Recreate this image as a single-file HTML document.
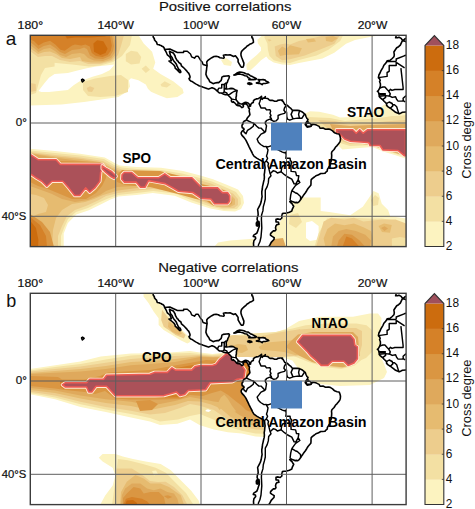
<!DOCTYPE html>
<html><head><meta charset="utf-8"><title>Cross degree maps</title>
<style>html,body{margin:0;padding:0;background:#fff;width:475px;height:509px;overflow:hidden}svg{display:block}svg text{font-family:"Liberation Sans",sans-serif}</style>
</head><body>
<svg width="475" height="509" viewBox="0 0 475 509">
<defs><clipPath id="clip0"><rect x="30.5" y="35.3" width="375.5" height="211.5"/></clipPath><clipPath id="clip1"><rect x="30.5" y="293.3" width="375.5" height="211.5"/></clipPath></defs>
<rect width="475" height="509" fill="#fff"/>
<g clip-path="url(#clip0)"><polygon points="30.0,35.0 138.4,35.0 143.7,43.4 152.1,51.8 155.3,62.4 153.2,68.7 160.5,73.9 173.2,81.3 182.6,88.7 183.7,92.9 177.4,97.1 166.8,98.2 158.4,95.0 151.0,91.8 147.9,88.7 145.8,84.5 138.4,80.3 131.0,78.2 128.9,80.3 130.0,86.6 126.8,91.8 118.4,97.1 110.0,98.2 98.0,100.0 84.0,102.0 61.6,104.5 30.0,105.5" fill="#FCF3C0"/><polygon points="30.0,58.0 41.0,58.8 54.6,60.0 54.6,66.4 45.0,68.0 41.0,75.0 36.0,93.0 30.0,95.0" fill="#F3E0A3"/><polygon points="30.0,83.0 35.7,84.0 36.0,91.0 30.0,92.0" fill="#EDCD8D"/><polygon points="38.5,91.0 44.2,83.4 49.0,77.7 54.6,74.0 67.9,73.0 75.5,71.1 86.8,68.3 96.3,66.4 105.8,65.4 114.3,64.5 113.0,66.5 109.6,70.2 102.0,74.0 92.5,76.8 85.0,79.6 79.3,81.5 73.6,85.3 67.9,90.0 58.4,91.0 49.0,92.0 41.4,92.0" fill="#FFFFFF"/><polygon points="125.8,54.0 131.0,50.8 137.4,51.8 141.2,57.1 139.5,63.4 131.0,64.5 125.8,61.3" fill="#F3E0A3"/><polygon points="141.6,68.7 145.8,65.5 150.0,69.7 145.8,72.9" fill="#F3E0A3"/><polygon points="160.5,84.5 164.7,81.3 171.0,84.5 166.8,87.6 161.6,86.6" fill="#F3E0A3"/><polygon points="83.0,82.0 95.0,78.5 110.0,76.0 121.0,75.0 128.0,80.0 128.0,92.0 115.0,96.0 100.0,97.0 88.0,96.0 83.0,90.0" fill="#F3E0A3"/><polygon points="86.8,88.0 90.0,86.3 94.4,88.0 92.0,92.0 88.0,91.5" fill="#EDCD8D"/><polygon points="30.0,35.0 132.0,35.0 130.0,45.0 122.0,56.0 113.0,62.0 100.0,65.5 89.0,66.6 72.0,64.5 51.0,62.4 40.5,61.3 30.0,63.4" fill="#F3E0A3"/><polygon points="30.0,35.0 124.0,35.0 121.0,46.0 118.0,55.0 112.0,61.0 100.0,64.0 88.0,64.0 80.0,61.0 70.0,62.0 60.0,60.0 52.0,56.0 45.0,56.0 38.0,57.0 30.0,51.0" fill="#EDCD8D"/><polygon points="30.0,35.0 116.0,35.0 117.0,42.0 117.0,49.0 115.5,55.0 111.0,60.0 102.0,62.5 91.0,62.4 82.0,61.0 80.0,57.0 70.0,59.0 62.0,58.0 56.0,54.0 50.0,51.5 44.0,52.0 38.0,54.0 30.0,48.0" fill="#E6BB70"/><polygon points="30.0,35.0 114.0,35.0 115.0,41.0 115.5,47.0 114.5,53.0 111.0,58.0 103.0,61.0 94.0,60.5 88.0,58.0 84.0,54.0 80.0,53.0 72.0,54.0 66.0,57.0 60.0,55.0 55.0,51.0 50.0,48.0 44.0,49.0 38.4,52.0 34.0,48.0 30.0,45.0" fill="#DFA95C"/><polygon points="30.0,35.0 112.0,35.0 113.0,41.0 114.0,46.0 113.0,51.0 110.0,56.0 103.0,59.0 95.0,58.5 90.0,55.5 87.0,49.0 84.0,47.5 80.0,49.0 72.0,50.0 65.0,54.0 60.0,52.0 55.3,48.0 50.0,44.5 43.7,46.0 38.4,49.0 34.0,45.0 30.0,42.0" fill="#DA9642"/><polygon points="30.0,35.0 109.7,35.0 110.8,40.3 111.8,45.5 110.8,50.8 107.6,55.0 102.4,57.1 96.0,56.0 91.8,52.9 89.7,46.6 85.5,44.5 81.3,45.5 75.0,44.5 72.1,45.5 64.7,50.8 60.5,49.7 55.3,44.5 50.0,40.8 43.7,42.4 38.4,45.5 34.2,41.3 30.0,39.2" fill="#D58128"/><polygon points="64.7,35.0 109.7,35.0 105.0,36.5 90.0,37.5 75.0,37.5 67.0,38.5" fill="#CC6C0E"/><polygon points="93.4,43.4 97.1,40.3 103.4,41.3 107.6,48.7 105.5,52.9 100.3,55.0 94.0,51.8" fill="#CC6C0E"/><polygon points="30.0,148.7 55.0,151.0 80.0,153.7 104.8,157.4 116.0,163.7 120.0,165.6 136.4,167.0 161.0,167.8 183.0,171.0 199.4,175.2 213.0,179.3 226.7,184.7 238.0,189.5 243.0,196.0 244.0,203.0 241.0,209.0 235.0,211.5 224.0,211.0 210.3,208.5 191.2,202.5 174.7,195.7 152.8,193.0 136.4,195.0 130.0,195.5 118.4,196.6 110.0,199.7 101.6,204.0 88.9,210.3 76.3,214.5 67.9,222.9 63.7,233.4 63.7,247.0 30.0,247.0" fill="#FCF3C0"/><polygon points="30.0,150.5 55.0,153.0 80.0,155.5 104.0,159.0 114.0,165.0 122.0,167.5 137.0,169.0 161.0,170.0 182.0,173.5 198.0,177.5 212.0,181.5 225.0,187.0 236.0,192.0 240.5,198.0 241.0,204.0 237.0,209.0 224.0,209.5 210.0,206.5 191.0,200.0 175.0,193.5 153.0,191.0 137.0,193.0 118.0,195.0 108.0,198.5 100.0,202.0 88.0,208.0 76.0,212.0 68.0,219.0 64.0,228.0 61.0,236.0 61.0,247.0 30.0,247.0" fill="#F3E0A3"/><polygon points="30.0,152.0 55.0,155.0 80.0,157.5 103.0,161.0 113.0,166.5 122.0,169.5 137.0,171.0 161.0,172.0 181.0,175.5 197.0,179.5 211.0,183.5 223.0,189.0 233.0,193.5 238.0,199.0 238.0,205.0 234.0,208.0 222.0,208.0 210.0,204.5 192.0,197.5 176.0,191.5 153.0,189.0 137.0,190.5 118.0,193.0 106.0,196.0 98.0,200.5 86.0,206.0 75.0,210.0 67.0,216.0 62.0,226.0 58.0,236.0 58.0,247.0 30.0,247.0" fill="#EDCD8D"/><polygon points="30.0,153.0 56.0,156.5 81.0,159.0 102.0,162.5 112.0,168.0 121.0,171.0 137.0,172.5 161.0,174.0 180.0,178.0 196.0,182.0 210.0,186.0 221.0,190.5 230.0,194.0 235.0,199.0 235.0,204.5 230.0,207.0 216.0,206.5 208.0,202.5 192.0,195.5 176.0,189.5 153.0,187.0 137.0,188.0 118.0,190.5 103.0,195.0 94.0,199.0 85.0,202.0 72.0,204.0 62.0,210.0 56.0,218.0 53.0,230.0 52.0,247.0 30.0,247.0 30.0,218.0 38.0,214.0 46.0,212.0 48.0,205.0 44.0,198.0 36.0,195.0 30.0,194.0" fill="#E6BB70"/><polygon points="30.0,153.5 57.0,158.0 82.0,161.0 102.0,163.5 112.0,169.5 121.0,172.5 138.0,174.0 162.0,176.0 178.0,180.0 194.0,184.0 208.0,188.5 219.0,191.5 228.0,194.0 232.5,199.0 232.0,204.0 227.0,206.0 214.0,205.5 207.0,201.0 193.0,194.0 177.0,188.0 152.0,185.5 135.0,186.0 117.0,187.0 106.0,191.0 100.0,195.0 88.0,200.0 75.0,202.0 62.0,199.0 52.0,194.0 44.0,191.0 30.0,186.0" fill="#DFA95C"/><polygon points="30.0,216.0 40.0,222.0 47.0,232.0 52.0,247.0 30.0,247.0" fill="#DFA95C"/><polygon points="30.0,214.0 42.0,222.0 50.0,232.0 54.0,247.0 30.0,247.0" fill="#DA9642"/><polygon points="30.0,217.0 40.0,225.0 46.0,236.0 47.0,247.0 30.0,247.0" fill="#D58128"/><polygon points="30.0,220.5 36.0,228.0 38.4,240.0 38.0,247.0 30.0,247.0" fill="#CC6C0E"/><polygon points="30.0,160.0 30.0,182.0 38.0,186.0 48.0,189.0 60.0,194.0 72.0,199.0 86.0,199.0 96.0,193.0 102.0,186.0 106.0,178.0 108.0,168.0 100.0,162.0 60.0,161.0 40.0,158.0" fill="#DA9642"/><polygon points="116.0,176.0 122.0,170.0 160.0,171.0 180.0,176.0 200.0,184.0 215.0,187.0 226.0,191.0 231.0,195.0 232.0,202.0 228.0,205.5 213.0,205.5 207.0,201.0 196.0,199.0 178.0,194.0 150.0,187.0 125.0,185.0 117.0,182.0" fill="#DA9642"/><polygon points="29.0,155.0 31.3,155.1 38.4,159.8 56.1,159.8 60.3,164.4 102.4,164.4 104.1,166.6 100.7,171.9 99.9,181.2 94.8,187.9 89.8,192.2 85.6,187.9 79.7,195.5 74.6,195.5 68.7,187.9 62.8,181.2 51.9,181.2 46.8,186.3 41.8,181.2 36.7,178.3 31.3,174.5 29.0,174.5" fill="none" stroke="#FFEBD6" stroke-width="3.4" stroke-linejoin="round"/><polygon points="29.0,155.0 31.3,155.1 38.4,159.8 56.1,159.8 60.3,164.4 102.4,164.4 104.1,166.6 100.7,171.9 99.9,181.2 94.8,187.9 89.8,192.2 85.6,187.9 79.7,195.5 74.6,195.5 68.7,187.9 62.8,181.2 51.9,181.2 46.8,186.3 41.8,181.2 36.7,178.3 31.3,174.5 29.0,174.5" fill="#AB5159" stroke="#EE5B53" stroke-width="1.6" stroke-linejoin="round"/><polygon points="102.2,165.8 106.6,168.8 111.8,171.8 116.2,176.2 114.0,178.4 110.3,176.2 105.9,172.5 102.2,168.8" fill="none" stroke="#FFEBD6" stroke-width="3.4" stroke-linejoin="round"/><polygon points="102.2,165.8 106.6,168.8 111.8,171.8 116.2,176.2 114.0,178.4 110.3,176.2 105.9,172.5 102.2,168.8" fill="#AB5159" stroke="#EE5B53" stroke-width="1.6" stroke-linejoin="round"/><polygon points="122.1,174.7 124.3,172.5 131.7,172.5 137.6,177.7 158.9,177.7 164.8,173.8 170.1,177.7 191.9,177.7 202.0,187.9 217.6,187.9 222.4,192.6 227.6,192.6 229.7,195.8 229.7,201.0 227.6,203.7 214.5,203.7 210.8,199.0 201.3,198.4 192.8,192.5 178.5,191.2 172.6,187.8 165.0,183.6 148.6,180.6 144.9,187.3 140.5,187.3 136.1,182.1 124.3,182.1 121.8,179.2" fill="none" stroke="#FFEBD6" stroke-width="3.4" stroke-linejoin="round"/><polygon points="122.1,174.7 124.3,172.5 131.7,172.5 137.6,177.7 158.9,177.7 164.8,173.8 170.1,177.7 191.9,177.7 202.0,187.9 217.6,187.9 222.4,192.6 227.6,192.6 229.7,195.8 229.7,201.0 227.6,203.7 214.5,203.7 210.8,199.0 201.3,198.4 192.8,192.5 178.5,191.2 172.6,187.8 165.0,183.6 148.6,180.6 144.9,187.3 140.5,187.3 136.1,182.1 124.3,182.1 121.8,179.2" fill="#AB5159" stroke="#EE5B53" stroke-width="1.6" stroke-linejoin="round"/><polygon points="214.0,247.0 218.0,242.5 230.0,240.5 250.0,239.0 262.0,238.0 262.0,247.0" fill="#FCF3C0"/><polygon points="257.4,39.7 261.0,36.5 263.0,35.0 381.0,35.0 380.0,35.5 372.0,36.5 365.0,38.0 355.0,40.0 346.1,43.8 334.3,52.7 322.5,58.6 299.0,63.0 290.0,65.0 282.1,64.5 273.7,62.4 268.4,59.2 266.3,56.6 261.0,60.3 255.8,65.5 250.5,70.3 246.8,69.7 246.3,64.5 250.5,60.3 256.8,55.0 261.0,50.8 261.0,47.6 257.9,43.4" fill="#FCF3C0"/><polygon points="264.2,37.1 266.0,35.0 343.2,35.0 340.2,40.9 328.4,49.7 316.6,55.6 299.0,60.0 290.0,62.9 282.1,62.4 273.7,60.3 269.5,56.0 267.9,49.7 267.4,43.4" fill="#F3E0A3"/><polygon points="274.7,46.6 280.0,44.5 285.3,43.4 290.0,44.5 299.0,40.9 313.7,38.0 325.5,35.0 340.2,35.0 334.3,43.8 319.6,49.7 304.8,55.6 290.0,59.2 282.1,60.3 275.8,56.0" fill="#EDCD8D"/><polygon points="267.4,39.5 270.0,39.2 271.6,40.5 269.0,41.5" fill="#EDCD8D"/><polygon points="277.9,50.8 282.1,46.6 286.3,48.7 290.1,45.3 301.9,48.3 299.0,54.2 285.3,55.0 280.0,56.0" fill="#E6BB70"/><polygon points="325.5,37.0 333.0,36.0 338.0,38.0 332.0,42.0 326.0,41.0" fill="#E6BB70"/><polygon points="306.0,39.0 314.0,38.5 316.0,41.5 308.0,42.5" fill="#E6BB70"/><polygon points="221.0,60.0 226.0,58.0 232.0,62.0 231.0,66.0 224.0,65.0" fill="#FCF3C0"/><polygon points="300.0,116.0 309.9,111.2 319.2,111.7 333.0,114.7 340.0,117.6 353.9,117.1 367.8,115.0 376.1,110.8 381.0,107.0 385.0,104.0 388.0,106.5 392.0,109.5 396.0,112.0 399.0,113.8 403.0,112.5 406.0,112.0 406.0,158.7 395.6,155.2 384.0,151.7 372.4,147.1 356.2,148.3 342.3,149.4 337.7,144.8 330.0,138.0 320.0,130.0 310.0,127.0 303.0,124.0" fill="#FCF3C0"/><polygon points="308.0,117.0 330.0,118.0 345.0,121.0 362.0,119.5 380.0,118.0 392.0,116.0 399.0,116.0 406.0,115.0 406.0,157.0 390.0,152.0 372.0,145.0 350.0,146.0 340.0,143.0 333.0,137.0 322.0,128.0 310.0,123.0" fill="#F3E0A3"/><polygon points="318.0,120.0 335.0,121.0 348.0,124.0 370.0,123.0 390.0,121.0 406.0,120.0 406.0,156.0 388.0,150.0 372.0,144.0 350.0,144.0 341.0,141.0 335.0,135.0" fill="#EDCD8D"/><polygon points="330.0,124.0 350.0,126.0 370.0,125.0 406.0,124.0 406.0,156.0 386.0,150.0 370.0,145.0 348.0,142.0 340.0,139.0 334.0,133.0" fill="#DFA95C"/><polygon points="336.5,129.7 352.7,129.7 356.2,133.2 359.7,129.7 363.2,133.2 367.8,129.7 405.5,129.7 405.5,155.6 404.3,155.6 398.0,150.5 382.8,149.9 380.0,145.5 370.0,145.5 369.0,143.0 367.8,142.5 350.4,141.3 344.6,139.0 341.2,135.5 336.5,132.0" fill="none" stroke="#FFEBD6" stroke-width="3.4" stroke-linejoin="round"/><polygon points="336.5,129.7 352.7,129.7 356.2,133.2 359.7,129.7 363.2,133.2 367.8,129.7 405.5,129.7 405.5,155.6 404.3,155.6 398.0,150.5 382.8,149.9 380.0,145.5 370.0,145.5 369.0,143.0 367.8,142.5 350.4,141.3 344.6,139.0 341.2,135.5 336.5,132.0" fill="#AB5159" stroke="#EE5B53" stroke-width="1.6" stroke-linejoin="round"/><polygon points="289.0,196.0 306.0,197.4 320.7,197.4 320.7,211.0 329.2,212.1 350.2,215.3 362.8,206.8 369.2,197.4 373.4,191.0 378.6,193.2 381.8,203.7 388.1,210.0 390.2,216.3 406.0,218.4 406.0,247.0 262.0,247.0 266.0,236.0 272.0,228.0 280.0,222.0 286.0,212.0" fill="#FCF3C0"/><polygon points="306.0,222.6 312.0,221.0 318.6,226.0 318.6,239.5 310.0,241.0 306.0,238.0" fill="#FFFFFF"/><polygon points="327.0,218.4 348.0,217.4 369.2,218.4 381.8,218.4 394.4,220.5 405.0,224.7 406.0,247.0 314.4,247.0 318.6,233.2" fill="#F3E0A3"/><polygon points="290.0,215.0 298.0,213.0 302.0,222.0 296.0,228.0 289.0,224.0" fill="#F3E0A3"/><polygon points="371.0,200.0 375.0,195.0 379.0,198.0 378.0,205.0 373.0,206.0" fill="#F3E0A3"/><polygon points="319.8,234.7 323.6,221.5 331.2,217.7 344.4,219.6 353.9,217.7 363.4,221.5 372.8,220.5 382.3,219.6 395.6,219.6 406.0,223.4 406.0,247.0 316.0,247.0" fill="#EDCD8D"/><polygon points="391.8,238.5 400.0,237.0 406.0,238.0 406.0,247.0 392.0,247.0" fill="#F3E0A3"/><polygon points="323.6,238.5 327.4,229.0 335.0,223.4 344.4,225.3 353.9,223.4 363.4,227.2 371.0,231.0 372.8,238.5 372.8,247.0 325.5,247.0" fill="#E6BB70"/><polygon points="378.5,226.0 384.0,223.4 391.8,225.0 390.0,232.8 382.0,232.0" fill="#E6BB70"/><polygon points="381.0,228.0 384.5,226.2 388.0,228.5 384.5,231.0" fill="#DFA95C"/><polygon points="331.2,247.0 333.0,236.6 338.7,231.0 346.3,229.0 355.8,231.0 365.3,234.7 371.0,240.4 370.0,247.0" fill="#DFA95C"/><polygon points="336.8,247.0 338.7,240.4 344.4,233.8 352.0,234.7 359.6,240.4 365.3,247.0" fill="#DA9642"/><polygon points="342.5,247.0 346.3,236.6 352.0,238.5 359.6,247.0" fill="#D58128"/><polygon points="266.0,240.0 283.0,238.0 286.0,247.0 264.0,247.0" fill="#DFA95C"/><g><path d="M151.4 33.5 L152.2 34.9 L153.1 35.7 L153.2 37.0 L153.9 38.0 L154.4 38.9 L154.4 39.7 L155.4 41.0 L156.5 42.1 L157.1 44.1 L157.4 44.5 L159.1 44.7 L160.1 45.3 L161.6 45.7 L161.9 46.3 L162.7 46.5 L163.6 47.2 L164.3 48.3 L164.5 49.0 L164.6 49.5 L165.5 50.8 L166.3 52.3 L167.0 54.0 L167.4 54.8 L168.7 56.0 L170.0 57.2 L170.8 59.0 L171.3 60.7 L169.0 61.0 L170.4 62.1 L172.1 63.5 L173.8 65.0 L174.9 66.4 L175.3 68.3 L176.4 69.2 L177.9 70.6 L179.4 72.3 L180.0 72.7 L180.9 72.0 L180.2 70.2 L179.2 69.7 L178.3 68.5 L177.0 65.9 L176.4 64.3 L175.1 62.6 L173.8 60.9 L172.7 59.2 L172.1 57.5 L170.6 55.8 L169.8 53.3 L169.5 51.3 L170.8 52.0 L172.3 52.5 L173.6 53.3 L175.1 56.0 L175.5 57.7 L177.2 60.7 L177.9 60.9 L178.7 62.3 L180.9 64.0 L181.5 65.9 L183.2 67.3 L184.9 69.0 L186.4 70.6 L187.5 72.0 L188.8 73.4 L189.6 75.3 L190.1 76.9 L189.8 78.0 L189.0 78.5 L189.4 79.6 L190.7 81.0 L192.0 81.4 L193.7 82.6 L195.6 83.9 L197.1 84.6 L199.0 85.7 L201.4 86.6 L203.3 87.3 L205.4 87.9 L207.6 88.8 L208.6 89.1 L209.9 88.6 L211.4 87.9 L212.7 87.9 L214.0 88.4 L215.7 89.7 L217.6 91.5 L219.3 92.9 L221.3 93.0 L223.0 93.9 L224.9 94.6 L226.8 94.8 L227.4 94.3 L228.1 95.2 L229.4 96.5 L231.1 98.3 L231.7 99.4 L231.3 100.7 L231.7 101.7 L233.0 102.4 L233.4 101.7 L234.1 102.4 L235.4 103.5 L236.2 104.6 L236.8 105.2 L237.7 105.6 L239.2 105.4 L240.7 106.5 L242.0 107.6 L243.0 107.1 L243.5 106.1 L243.0 105.2 L244.3 103.9 L245.0 103.7 L246.3 104.1 L247.3 105.0 L248.0 105.9 L248.4 107.6 L248.6 108.0 L249.5 109.1 L249.2 111.0 L249.7 113.4 L249.9 114.7 L249.0 115.9 L247.7 117.4 L246.7 119.2 L246.0 120.4 L244.5 120.9 L243.7 121.7 L243.0 123.0 L242.8 124.3 L242.0 125.1 L242.0 126.4 L242.2 127.7 L243.5 128.3 L244.1 129.2 L243.3 130.3 L242.6 130.7 L241.8 131.6 L241.1 132.8 L241.3 134.1 L242.0 135.4 L244.1 137.6 L245.2 139.1 L246.0 140.4 L247.1 142.7 L248.2 144.9 L249.0 146.6 L250.1 148.8 L251.2 151.0 L252.0 152.5 L252.4 153.6 L253.5 155.4 L254.6 156.7 L256.7 158.1 L258.9 159.4 L261.0 160.5 L262.5 161.4 L264.0 162.5 L264.6 163.4 L264.8 165.5 L265.1 167.8 L264.8 170.0 L264.6 172.3 L264.2 174.7 L264.4 177.0 L264.2 179.4 L263.6 181.7 L263.1 184.1 L262.5 186.6 L262.3 189.0 L261.8 191.5 L261.8 194.0 L262.1 196.5 L261.6 199.0 L261.2 201.6 L260.4 204.2 L259.5 206.0 L258.6 207.6 L257.6 209.5 L258.0 212.2 L258.2 215.0 L257.4 217.2 L257.1 219.2 L257.8 221.2 L258.9 221.5 L259.3 223.5 L259.3 226.4 L258.4 228.8 L257.8 230.9 L256.7 233.3 L253.7 235.1 L253.3 236.4 L255.4 237.0 L255.7 238.6 L253.9 240.8 L253.5 243.4 L253.7 246.7 L254.6 250.0 L254.6 257.0 L267.4 257.0 L267.4 250.0 L268.7 247.0 L270.2 244.4 L271.2 242.4 L273.2 240.2 L274.0 239.4 L274.2 237.6 L272.1 236.4 L270.4 235.1 L270.6 233.6 L271.7 232.4 L273.4 230.9 L274.9 230.9 L276.0 229.7 L275.5 227.9 L276.0 225.8 L277.0 224.6 L278.9 224.3 L278.5 222.3 L277.7 222.0 L276.0 222.0 L276.0 219.2 L278.1 218.9 L280.2 219.5 L281.9 218.0 L281.7 216.1 L282.4 213.6 L283.9 213.3 L286.6 213.1 L289.4 212.2 L291.8 211.1 L292.2 209.3 L293.7 206.3 L292.8 205.0 L292.2 203.9 L290.5 202.4 L290.1 201.9 L289.8 201.3 L290.9 200.6 L291.3 201.3 L293.7 202.1 L294.8 202.6 L296.7 202.4 L297.5 202.8 L299.2 201.6 L300.5 199.8 L301.4 198.3 L302.9 196.2 L303.5 195.2 L305.4 192.7 L306.7 190.7 L308.0 188.5 L309.5 186.8 L310.8 185.3 L311.0 183.7 L311.0 181.5 L311.2 179.6 L312.5 178.4 L314.4 177.0 L315.9 175.8 L318.0 175.1 L319.5 174.2 L320.8 173.5 L322.5 173.5 L325.1 173.3 L325.3 172.6 L327.2 171.2 L327.4 169.4 L328.7 167.3 L330.0 165.5 L330.2 163.2 L331.1 161.4 L331.5 158.7 L331.7 155.4 L331.5 153.2 L331.9 151.7 L332.6 151.0 L334.1 149.5 L335.4 147.3 L337.1 145.6 L338.6 143.8 L339.8 142.1 L340.3 140.4 L340.5 138.2 L340.1 136.5 L339.6 135.0 L339.0 134.0 L337.1 133.7 L335.1 133.1 L333.6 132.0 L332.6 130.9 L330.2 129.4 L328.3 129.0 L325.5 129.2 L323.0 128.1 L320.2 128.3 L319.1 126.4 L316.5 125.1 L314.4 124.5 L312.7 124.3 L311.4 125.6 L311.2 126.2 L309.7 126.8 L307.1 127.1 L306.1 125.8 L305.2 124.5 L305.7 123.2 L306.5 122.1 L307.4 121.1 L308.0 119.4 L306.9 118.5 L305.9 116.2 L305.2 114.4 L304.6 114.0 L303.7 113.2 L301.8 111.7 L299.5 110.6 L297.3 110.2 L295.2 110.4 L292.6 110.4 L290.9 108.4 L289.4 107.4 L287.1 105.2 L284.9 104.6 L283.2 101.7 L281.7 100.4 L282.6 100.0 L280.2 100.0 L277.7 100.4 L276.8 101.3 L274.2 101.1 L272.1 100.2 L270.0 100.4 L268.9 99.6 L267.8 98.5 L265.9 98.3 L264.8 97.4 L265.3 96.7 L264.6 98.1 L263.1 98.1 L262.3 99.4 L261.2 98.1 L260.6 97.4 L261.6 96.3 L259.5 97.8 L258.2 98.7 L256.3 98.9 L255.0 99.4 L253.5 100.7 L253.3 102.4 L252.0 103.0 L250.7 104.6 L250.5 106.1 L249.5 104.6 L248.4 103.3 L247.1 102.6 L245.0 102.4 L243.9 103.0 L241.8 104.1 L240.3 103.7 L239.2 103.3 L238.3 102.6 L237.5 101.5 L236.4 100.2 L236.0 99.1 L236.0 97.2 L236.4 96.1 L236.4 93.9 L236.8 91.9 L237.1 90.6 L235.4 89.9 L233.2 88.6 L231.1 88.4 L228.9 88.8 L226.8 89.0 L225.7 88.6 L226.4 87.5 L226.2 85.0 L226.6 83.0 L227.2 82.8 L227.9 80.5 L228.9 78.5 L229.4 76.6 L228.7 75.7 L226.4 76.0 L223.2 76.4 L221.9 77.1 L221.5 79.4 L221.0 80.7 L219.5 81.9 L218.7 82.6 L217.2 82.6 L215.1 83.0 L213.1 83.7 L211.8 82.8 L210.1 82.1 L209.5 81.2 L208.9 79.8 L207.6 78.0 L206.7 76.4 L205.9 74.3 L206.1 72.5 L206.5 70.2 L206.7 67.8 L207.1 65.7 L206.9 63.5 L206.7 61.9 L207.6 60.7 L209.3 59.4 L211.8 57.7 L214.0 56.5 L216.1 56.3 L218.3 56.8 L220.0 57.7 L222.1 58.0 L223.8 58.2 L224.2 57.5 L223.4 55.3 L225.7 54.8 L227.9 55.0 L230.0 54.8 L232.1 55.8 L233.6 56.5 L235.4 55.8 L236.8 57.5 L238.1 59.4 L238.1 61.9 L239.2 63.8 L240.3 65.7 L241.5 67.3 L243.0 67.1 L243.7 65.5 L243.9 63.1 L243.0 60.9 L242.6 59.7 L241.8 57.7 L241.1 55.8 L240.9 54.0 L241.3 52.0 L242.0 50.8 L243.9 49.0 L245.6 47.7 L247.1 46.0 L248.6 45.2 L250.3 43.9 L251.8 43.4 L253.5 42.3 L253.3 40.5 L252.7 38.1 L252.0 37.8 L251.8 36.5 L252.4 35.1 L252.7 33.5 L252.7 26.8 L151.4 26.8 Z M394.5 32.9 L395.2 34.0 L396.0 35.1 L396.0 37.0 L395.6 37.8 L397.7 37.6 L399.0 37.3 L401.2 38.4 L402.0 39.7 L402.9 40.5 L405.2 38.6 L407.4 38.6 L407.4 26.8 L394.5 26.8 Z M407.4 42.3 L403.5 40.7 L402.2 41.0 L401.6 42.3 L400.3 45.2 L398.6 46.7 L396.7 47.7 L395.2 50.0 L393.9 52.0 L394.3 54.8 L393.9 56.8 L392.2 58.5 L390.3 60.2 L387.3 60.8 L385.8 63.1 L383.9 65.2 L383.0 67.3 L380.9 70.9 L380.0 73.0 L378.9 75.0 L378.4 77.6 L379.6 78.9 L380.2 80.5 L379.6 81.7 L380.4 83.7 L380.4 86.1 L379.6 88.4 L378.3 90.6 L377.4 91.3 L378.5 92.1 L378.9 93.9 L379.2 95.4 L379.2 96.5 L380.2 97.6 L381.9 99.1 L383.2 100.2 L384.3 101.5 L385.6 102.6 L386.6 103.9 L386.6 105.4 L388.1 106.9 L390.3 108.2 L391.8 109.3 L393.5 110.6 L395.6 112.3 L398.6 113.6 L399.9 113.6 L402.4 112.3 L406.3 111.9 L408.4 112.1 L414.8 112.1 L414.8 42.3 Z M233.3 75.2 L234.5 74.8 L237.5 72.7 L239.6 72.0 L241.8 72.3 L243.9 72.7 L246.0 73.7 L248.2 74.1 L250.3 75.7 L252.4 76.6 L254.6 77.8 L256.4 78.8 L255.7 79.4 L253.5 79.6 L250.3 79.6 L248.8 79.7 L249.9 78.5 L248.2 77.8 L246.9 76.0 L245.0 75.7 L242.8 74.8 L240.7 74.3 L239.6 73.9 L237.5 74.3 L235.4 75.0 L233.3 75.2 Z M255.8 83.0 L258.9 83.5 L260.4 83.5 L262.1 84.6 L263.1 83.5 L265.3 83.5 L267.4 83.0 L268.8 82.6 L267.6 81.7 L266.1 81.2 L265.3 80.1 L263.1 79.6 L261.0 79.8 L258.0 79.6 L259.5 80.7 L259.3 81.9 L257.8 82.6 L255.8 83.0 Z M247.4 83.2 L249.2 82.8 L251.6 83.5 L251.8 84.1 L249.9 84.6 L247.7 83.7 L247.4 83.2 Z M256.9 221.5 L256.3 223.5 L256.5 225.8 L257.6 226.1 L258.0 223.5 L257.6 221.7 L256.9 221.5 Z M81.7 78.9 L83.6 79.8 L84.1 80.5 L82.4 81.9 L81.7 80.7 L81.7 78.9 Z M306.5 123.4 L308.0 123.2 L309.5 123.2 L311.2 124.3 L311.4 125.1 L310.8 126.2 L309.1 126.4 L307.4 126.4 L306.3 125.6 L306.1 124.3 L306.5 123.4 Z M307.4 122.4 L308.4 122.1 L308.6 123.0 L307.6 123.1 L307.4 122.4 Z" fill="#fff" stroke="none"/><path d="M151.4 33.5 L152.2 34.9 L153.1 35.7 L153.2 37.0 L153.9 38.0 L154.4 38.9 L154.4 39.7 L155.4 41.0 L156.5 42.1 L157.1 44.1 L157.4 44.5 L159.1 44.7 L160.1 45.3 L161.6 45.7 L161.9 46.3 L162.7 46.5 L163.6 47.2 L164.3 48.3 L164.5 49.0 L164.6 49.5 L165.5 50.8 L166.3 52.3 L167.0 54.0 L167.4 54.8 L168.7 56.0 L170.0 57.2 L170.8 59.0 L171.3 60.7 L169.0 61.0 L170.4 62.1 L172.1 63.5 L173.8 65.0 L174.9 66.4 L175.3 68.3 L176.4 69.2 L177.9 70.6 L179.4 72.3 L180.0 72.7 L180.9 72.0 L180.2 70.2 L179.2 69.7 L178.3 68.5 L177.0 65.9 L176.4 64.3 L175.1 62.6 L173.8 60.9 L172.7 59.2 L172.1 57.5 L170.6 55.8 L169.8 53.3 L169.5 51.3 L170.8 52.0 L172.3 52.5 L173.6 53.3 L175.1 56.0 L175.5 57.7 L177.2 60.7 L177.9 60.9 L178.7 62.3 L180.9 64.0 L181.5 65.9 L183.2 67.3 L184.9 69.0 L186.4 70.6 L187.5 72.0 L188.8 73.4 L189.6 75.3 L190.1 76.9 L189.8 78.0 L189.0 78.5 L189.4 79.6 L190.7 81.0 L192.0 81.4 L193.7 82.6 L195.6 83.9 L197.1 84.6 L199.0 85.7 L201.4 86.6 L203.3 87.3 L205.4 87.9 L207.6 88.8 L208.6 89.1 L209.9 88.6 L211.4 87.9 L212.7 87.9 L214.0 88.4 L215.7 89.7 L217.6 91.5 L219.3 92.9 L221.3 93.0 L223.0 93.9 L224.9 94.6 L226.8 94.8 L227.4 94.3 L228.1 95.2 L229.4 96.5 L231.1 98.3 L231.7 99.4 L231.3 100.7 L231.7 101.7 L233.0 102.4 L233.4 101.7 L234.1 102.4 L235.4 103.5 L236.2 104.6 L236.8 105.2 L237.7 105.6 L239.2 105.4 L240.7 106.5 L242.0 107.6 L243.0 107.1 L243.5 106.1 L243.0 105.2 L244.3 103.9 L245.0 103.7 L246.3 104.1 L247.3 105.0 L248.0 105.9 L248.4 107.6 L248.6 108.0 L249.5 109.1 L249.2 111.0 L249.7 113.4 L249.9 114.7 L249.0 115.9 L247.7 117.4 L246.7 119.2 L246.0 120.4 L244.5 120.9 L243.7 121.7 L243.0 123.0 L242.8 124.3 L242.0 125.1 L242.0 126.4 L242.2 127.7 L243.5 128.3 L244.1 129.2 L243.3 130.3 L242.6 130.7 L241.8 131.6 L241.1 132.8 L241.3 134.1 L242.0 135.4 L244.1 137.6 L245.2 139.1 L246.0 140.4 L247.1 142.7 L248.2 144.9 L249.0 146.6 L250.1 148.8 L251.2 151.0 L252.0 152.5 L252.4 153.6 L253.5 155.4 L254.6 156.7 L256.7 158.1 L258.9 159.4 L261.0 160.5 L262.5 161.4 L264.0 162.5 L264.6 163.4 L264.8 165.5 L265.1 167.8 L264.8 170.0 L264.6 172.3 L264.2 174.7 L264.4 177.0 L264.2 179.4 L263.6 181.7 L263.1 184.1 L262.5 186.6 L262.3 189.0 L261.8 191.5 L261.8 194.0 L262.1 196.5 L261.6 199.0 L261.2 201.6 L260.4 204.2 L259.5 206.0 L258.6 207.6 L257.6 209.5 L258.0 212.2 L258.2 215.0 L257.4 217.2 L257.1 219.2 L257.8 221.2 L258.9 221.5 L259.3 223.5 L259.3 226.4 L258.4 228.8 L257.8 230.9 L256.7 233.3 L253.7 235.1 L253.3 236.4 L255.4 237.0 L255.7 238.6 L253.9 240.8 L253.5 243.4 L253.7 246.7 L254.6 250.0 M256.9 221.5 L256.3 223.5 L256.5 225.8 L257.6 226.1 L258.0 223.5 L257.6 221.7 L256.9 221.5 M267.4 250.0 L268.7 247.0 L270.2 244.4 L271.2 242.4 L273.2 240.2 L274.0 239.4 L274.2 237.6 L272.1 236.4 L270.4 235.1 L270.6 233.6 L271.7 232.4 L273.4 230.9 L274.9 230.9 L276.0 229.7 L275.5 227.9 L276.0 225.8 L277.0 224.6 L278.9 224.3 L278.5 222.3 L277.7 222.0 L276.0 222.0 L276.0 219.2 L278.1 218.9 L280.2 219.5 L281.9 218.0 L281.7 216.1 L282.4 213.6 L283.9 213.3 L286.6 213.1 L289.4 212.2 L291.8 211.1 L292.2 209.3 L293.7 206.3 L292.8 205.0 L292.2 203.9 L290.5 202.4 L290.1 201.9 L289.8 201.3 L290.9 200.6 L291.3 201.3 L293.7 202.1 L294.8 202.6 L296.7 202.4 L297.5 202.8 L299.2 201.6 L300.5 199.8 L301.4 198.3 L302.9 196.2 L303.5 195.2 L305.4 192.7 L306.7 190.7 L308.0 188.5 L309.5 186.8 L310.8 185.3 L311.0 183.7 L311.0 181.5 L311.2 179.6 L312.5 178.4 L314.4 177.0 L315.9 175.8 L318.0 175.1 L319.5 174.2 L320.8 173.5 L322.5 173.5 L325.1 173.3 L325.3 172.6 L327.2 171.2 L327.4 169.4 L328.7 167.3 L330.0 165.5 L330.2 163.2 L331.1 161.4 L331.5 158.7 L331.7 155.4 L331.5 153.2 L331.9 151.7 L332.6 151.0 L334.1 149.5 L335.4 147.3 L337.1 145.6 L338.6 143.8 L339.8 142.1 L340.3 140.4 L340.5 138.2 L340.1 136.5 L339.6 135.0 L339.0 134.0 L337.1 133.7 L335.1 133.1 L333.6 132.0 L332.6 130.9 L330.2 129.4 L328.3 129.0 L325.5 129.2 L323.0 128.1 L320.2 128.3 L319.1 126.4 L316.5 125.1 L314.4 124.5 L312.7 124.3 L311.4 125.6 L311.2 126.2 L309.7 126.8 L307.1 127.1 L306.1 125.8 L305.2 124.5 L305.7 123.2 L306.5 122.1 L307.4 121.1 L308.0 119.4 L306.9 118.5 L305.9 116.2 L305.2 114.4 L304.6 114.0 L303.7 113.2 L301.8 111.7 L299.5 110.6 L297.3 110.2 L295.2 110.4 L292.6 110.4 L290.9 108.4 L289.4 107.4 L287.1 105.2 L284.9 104.6 L283.2 101.7 L281.7 100.4 L282.6 100.0 L280.2 100.0 L277.7 100.4 L276.8 101.3 L274.2 101.1 L272.1 100.2 L270.0 100.4 L268.9 99.6 L267.8 98.5 L265.9 98.3 L264.8 97.4 L265.3 96.7 L264.6 98.1 L263.1 98.1 L262.3 99.4 L261.2 98.1 L260.6 97.4 L261.6 96.3 L259.5 97.8 L258.2 98.7 L256.3 98.9 L255.0 99.4 L253.5 100.7 L253.3 102.4 L252.0 103.0 L250.7 104.6 L250.5 106.1 L249.5 104.6 L248.4 103.3 L247.1 102.6 L245.0 102.4 L243.9 103.0 L241.8 104.1 L240.3 103.7 L239.2 103.3 L238.3 102.6 L237.5 101.5 L236.4 100.2 L236.0 99.1 L236.0 97.2 L236.4 96.1 L236.4 93.9 L236.8 91.9 L237.1 90.6 L235.4 89.9 L233.2 88.6 L231.1 88.4 L228.9 88.8 L226.8 89.0 L225.7 88.6 L226.4 87.5 L226.2 85.0 L226.6 83.0 L227.2 82.8 L227.9 80.5 L228.9 78.5 L229.4 76.6 L228.7 75.7 L226.4 76.0 L223.2 76.4 L221.9 77.1 L221.5 79.4 L221.0 80.7 L219.5 81.9 L218.7 82.6 L217.2 82.6 L215.1 83.0 L213.1 83.7 L211.8 82.8 L210.1 82.1 L209.5 81.2 L208.9 79.8 L207.6 78.0 L206.7 76.4 L205.9 74.3 L206.1 72.5 L206.5 70.2 L206.7 67.8 L207.1 65.7 L206.9 63.5 L206.7 61.9 L207.6 60.7 L209.3 59.4 L211.8 57.7 L214.0 56.5 L216.1 56.3 L218.3 56.8 L220.0 57.7 L222.1 58.0 L223.8 58.2 L224.2 57.5 L223.4 55.3 L225.7 54.8 L227.9 55.0 L230.0 54.8 L232.1 55.8 L233.6 56.5 L235.4 55.8 L236.8 57.5 L238.1 59.4 L238.1 61.9 L239.2 63.8 L240.3 65.7 L241.5 67.3 L243.0 67.1 L243.7 65.5 L243.9 63.1 L243.0 60.9 L242.6 59.7 L241.8 57.7 L241.1 55.8 L240.9 54.0 L241.3 52.0 L242.0 50.8 L243.9 49.0 L245.6 47.7 L247.1 46.0 L248.6 45.2 L250.3 43.9 L251.8 43.4 L253.5 42.3 L253.3 40.5 L252.7 38.1 L252.0 37.8 L251.8 36.5 L252.4 35.1 L252.7 33.5 M233.3 75.2 L234.5 74.8 L237.5 72.7 L239.6 72.0 L241.8 72.3 L243.9 72.7 L246.0 73.7 L248.2 74.1 L250.3 75.7 L252.4 76.6 L254.6 77.8 L256.4 78.8 L255.7 79.4 L253.5 79.6 L250.3 79.6 L248.8 79.7 L249.9 78.5 L248.2 77.8 L246.9 76.0 L245.0 75.7 L242.8 74.8 L240.7 74.3 L239.6 73.9 L237.5 74.3 L235.4 75.0 L233.3 75.2 M255.8 83.0 L258.9 83.5 L260.4 83.5 L262.1 84.6 L263.1 83.5 L265.3 83.5 L267.4 83.0 L268.8 82.6 L267.6 81.7 L266.1 81.2 L265.3 80.1 L263.1 79.6 L261.0 79.8 L258.0 79.6 L259.5 80.7 L259.3 81.9 L257.8 82.6 L255.8 83.0 M247.4 83.2 L249.2 82.8 L251.6 83.5 L251.8 84.1 L249.9 84.6 L247.7 83.7 L247.4 83.2 M81.7 78.9 L83.6 79.8 L84.1 80.5 L82.4 81.9 L81.7 80.7 L81.7 78.9 M394.5 32.9 L395.2 34.0 L396.0 35.1 L396.0 37.0 L395.6 37.8 L397.7 37.6 L399.0 37.3 L401.2 38.4 L402.0 39.7 L402.9 40.5 L405.2 38.6 L407.4 38.6 M407.4 42.3 L403.5 40.7 L402.2 41.0 L401.6 42.3 L400.3 45.2 L398.6 46.7 L396.7 47.7 L395.2 50.0 L393.9 52.0 L394.3 54.8 L393.9 56.8 L392.2 58.5 L390.3 60.2 L387.3 60.8 L385.8 63.1 L383.9 65.2 L383.0 67.3 L380.9 70.9 L380.0 73.0 L378.9 75.0 L378.4 77.6 L379.6 78.9 L380.2 80.5 L379.6 81.7 L380.4 83.7 L380.4 86.1 L379.6 88.4 L378.3 90.6 L377.4 91.3 L378.5 92.1 L378.9 93.9 L379.2 95.4 L379.2 96.5 L380.2 97.6 L381.9 99.1 L383.2 100.2 L384.3 101.5 L385.6 102.6 L386.6 103.9 L386.6 105.4 L388.1 106.9 L390.3 108.2 L391.8 109.3 L393.5 110.6 L395.6 112.3 L398.6 113.6 L399.9 113.6 L402.4 112.3 L406.3 111.9 L408.4 112.1 M306.5 123.4 L308.0 123.2 L309.5 123.2 L311.2 124.3 L311.4 125.1 L310.8 126.2 L309.1 126.4 L307.4 126.4 L306.3 125.6 L306.1 124.3 L306.5 123.4 M307.4 122.4 L308.4 122.1 L308.6 123.0 L307.6 123.1 L307.4 122.4" fill="none" stroke="#000" stroke-width="1.6" stroke-linejoin="round"/><path d="M164.6 49.5 L169.8 49.0 L177.4 52.5 L183.6 52.5 L183.6 51.3 L187.3 51.3 L190.5 54.0 L191.6 56.8 L194.5 58.2 L196.0 56.3 L198.2 56.3 L200.5 60.2 L202.2 61.9 L203.1 64.5 L207.1 65.7 M217.8 91.7 L217.8 89.9 L218.9 88.1 L221.7 88.1 L221.7 84.4 L224.3 84.4 L226.2 82.8 M224.3 84.4 L224.2 88.6 L226.4 89.0 M224.2 88.6 L224.2 91.9 L222.3 93.5 M224.2 91.9 L226.8 93.0 L227.2 94.1 M227.9 95.0 L229.6 94.3 L231.7 92.8 L233.9 91.5 L237.1 90.6 M231.7 99.1 L233.9 99.4 L236.0 99.6 M237.7 105.9 L237.9 103.7 L238.3 102.4 M248.4 107.6 L249.5 106.1 L249.9 104.6 M262.5 97.6 L260.6 99.1 L259.9 101.5 L259.1 103.7 L260.1 105.9 L261.0 108.0 L265.1 108.0 L266.5 109.9 L270.0 109.7 L270.6 111.2 L270.0 113.4 L271.0 115.5 L270.0 117.0 L271.2 118.3 L271.9 120.4 M271.9 120.4 L269.8 119.2 L266.3 120.7 L266.1 121.7 L265.3 121.9 L265.3 123.4 L266.5 125.8 L265.5 132.0 M246.5 120.0 L249.2 121.3 L251.4 122.4 L253.9 123.2 M253.9 123.2 L256.7 126.2 L258.9 128.1 L261.0 128.1 L263.8 131.1 L265.5 132.0 M243.3 130.3 L244.3 132.4 L246.0 133.7 L247.5 130.3 L250.3 128.6 L253.3 126.2 L253.9 123.2 M265.5 132.0 L261.0 134.1 L258.9 136.9 L257.1 139.1 L258.4 142.3 L260.6 144.5 L264.0 146.6 L266.1 146.5 M266.1 146.5 L268.0 149.9 L267.4 153.2 L266.5 156.1 L267.6 158.3 L266.3 161.0 L265.7 161.4 L264.4 162.9 M266.3 161.0 L268.5 163.2 L268.0 165.9 L269.1 169.6 L270.0 173.3 M266.1 146.5 L268.0 146.9 L271.7 145.6 L275.1 144.0 L275.3 147.7 L278.1 149.9 L282.4 152.1 L284.5 152.8 L285.8 152.3 L286.2 155.6 L285.8 158.3 L290.1 158.3 L290.3 160.5 L291.5 161.6 L290.9 166.2 M290.9 166.2 L288.6 165.0 L283.0 165.7 L281.7 167.8 L281.1 171.7 M281.1 171.7 L277.4 173.0 L275.5 171.4 L273.2 170.7 L271.2 172.8 L270.0 173.3 M270.0 173.3 L271.0 175.8 L268.7 178.4 L268.3 182.9 L267.2 186.6 L265.3 190.2 L265.3 195.2 L265.3 199.0 L264.4 202.9 L263.3 206.8 L262.9 210.9 L261.6 215.0 L261.4 219.2 L261.6 223.5 L261.8 227.9 L261.4 232.4 L261.0 237.0 L259.9 241.8 L258.4 245.0 L258.2 249.0 M281.1 171.7 L284.5 174.7 L287.7 177.0 L291.8 179.1 L294.1 183.9 L296.0 183.7 L298.2 179.6 M298.2 179.6 L298.8 175.8 L296.5 175.6 L295.6 171.9 L291.1 171.4 L290.9 166.2 M298.2 179.6 L299.9 182.5 L295.6 185.3 L291.8 190.7 M291.8 190.7 L290.7 195.2 L290.1 200.0 M291.8 190.7 L295.2 192.7 L297.3 193.5 L300.5 196.5 L300.7 199.5 M271.9 120.4 L273.8 121.3 L276.0 120.9 L278.1 118.7 L278.1 115.5 L280.7 114.4 L284.5 113.4 L285.4 111.9 M285.4 111.9 L283.9 110.2 L284.5 108.0 L286.6 104.8 M285.4 111.9 L286.6 112.3 L286.8 116.6 L287.5 119.2 L289.8 120.2 L293.0 118.9 M293.0 118.9 L291.1 114.4 L292.8 110.4 M293.0 118.9 L297.3 118.1 L299.5 118.3 M299.5 118.3 L298.6 114.4 L299.5 110.8 M299.5 118.3 L301.8 118.3 L304.6 114.0 M396.2 61.4 L386.6 61.4 M378.4 77.6 L387.1 76.4 L387.1 72.5 L389.2 71.3 L389.2 65.5 L396.2 65.5 L396.2 62.3 M396.2 61.4 L396.2 59.0 L404.2 55.8 L408.4 54.5 M396.2 62.3 L404.6 67.8 M400.9 68.1 L403.1 87.5 L403.1 89.5 L394.8 89.5 L392.0 90.4 L390.5 89.3 L388.8 91.3 M379.6 88.1 L382.8 87.0 L384.9 87.0 L387.1 89.5 L388.8 91.3 M388.8 91.3 L390.3 93.9 L389.2 96.1 M378.9 93.7 L385.3 93.7 L385.3 94.3 L379.2 94.6 M379.2 96.3 L385.6 95.6 M382.6 99.6 L385.6 97.4 L385.6 95.6 L390.3 96.3 L392.2 97.4 L395.6 96.7 L396.7 99.4 L398.0 101.1 M386.4 103.7 L389.2 102.0 L392.2 103.5 L392.8 105.9 L390.3 108.2 M392.8 104.8 L394.5 104.8 L396.7 106.7 L398.8 113.6 M397.7 101.1 L401.6 101.1 L403.3 100.7 L405.2 102.0 M403.3 100.7 L403.1 98.3 L405.6 96.1 L408.4 95.0" fill="none" stroke="#000" stroke-width="1.45" stroke-linejoin="round"/></g><g stroke="#5e5e5e" stroke-width="1"><line x1="115.7" y1="35.0" x2="115.7" y2="247.0"/><line x1="201.0" y1="35.0" x2="201.0" y2="247.0"/><line x1="286.5" y1="35.0" x2="286.5" y2="247.0"/><line x1="372.1" y1="35.0" x2="372.1" y2="247.0"/><line x1="30" y1="123.0" x2="406" y2="123.0"/><line x1="30" y1="216.3" x2="406" y2="216.3"/></g><rect x="271" y="122.8" width="31" height="27.7" fill="#4F81BD"/></g><rect x="30.3" y="35.3" width="375.8" height="211.3" fill="none" stroke="#3c3c3c" stroke-width="1.4"/>
<g clip-path="url(#clip1)"><polygon points="143.5,293.0 155.3,293.0 157.0,299.7 163.7,308.2 170.4,318.3 180.5,328.4 188.9,336.8 190.6,341.8 187.3,343.5 180.5,340.2 172.1,335.1 163.7,330.0 158.6,325.0 158.6,318.3 153.6,311.5 148.5,303.1 143.5,296.4" fill="#FCF3C0"/><polygon points="162.0,309.8 168.7,318.3 177.2,326.7 185.6,335.1 183.9,338.5 175.5,335.1 168.7,330.0 163.7,326.7 161.2,320.0" fill="#EDCD8D"/><polygon points="168.7,321.6 177.2,328.4 182.2,333.4 178.8,335.1 172.1,331.7 167.9,326.7" fill="#E6BB70"/><polygon points="225.0,336.0 245.0,334.0 262.0,334.0 275.0,332.5 285.6,329.0 299.1,321.0 319.3,316.8 353.0,316.8 369.8,313.4 378.0,313.5 381.5,318.0 381.0,330.0 380.0,345.0 380.0,355.0 384.0,364.0 387.0,372.0 384.0,378.0 370.0,385.0 340.0,386.0 320.0,384.0 305.0,378.0 292.4,360.6 275.5,355.5 258.7,352.2 241.8,348.8 225.0,347.1" fill="#FCF3C0"/><polygon points="231.7,337.0 252.0,333.6 275.5,332.0 292.4,328.6 305.8,325.2 326.0,323.5 356.4,323.5 366.5,325.2 372.0,330.0 373.0,342.0 372.0,352.0 366.0,358.0 361.4,360.0 354.7,365.6 341.2,369.0 326.0,367.3 309.2,362.3 292.4,355.5 275.5,350.5 258.7,347.1 238.5,343.7 228.4,342.0" fill="#F3E0A3"/><polygon points="245.2,338.7 258.7,337.0 275.5,336.0 288.0,334.0 300.0,329.5 320.0,328.0 356.0,328.0 362.0,331.0 362.0,345.0 358.0,360.0 352.0,366.0 341.0,368.0 326.0,366.0 310.0,361.0 295.0,354.0 285.6,347.0 275.5,346.0 258.7,344.5 245.2,343.0" fill="#EDCD8D"/><polygon points="224.0,345.0 226.0,336.0 235.0,335.0 244.0,336.0 262.0,336.0 271.0,334.0 282.0,332.0 295.0,330.0 300.0,329.0 300.0,356.0 280.0,357.0 262.0,358.0 248.0,357.0 238.0,357.0 228.0,352.0" fill="#EDCD8D"/><polygon points="258.7,346.9 265.4,342.7 275.5,341.8 284.0,341.0 292.4,340.2 300.0,339.5 300.0,354.0 295.7,355.3 284.0,352.0 275.5,351.1 265.4,350.3 260.4,349.4" fill="#E6BB70"/><polygon points="231.0,346.0 238.0,344.0 246.0,345.0 248.0,350.0 242.0,353.0 234.0,352.0" fill="#E6BB70"/><polygon points="291.0,341.0 298.0,334.5 312.6,332.0 353.0,332.0 358.0,337.0 359.7,355.5 354.7,363.9 342.9,367.3 326.0,365.6 312.6,362.3 299.1,355.5 285.6,347.1" fill="#DFA95C"/><polygon points="297.6,341.8 302.6,335.4 350.6,335.4 354.0,339.3 354.8,345.2 357.4,346.9 357.4,358.7 354.0,362.9 348.1,365.4 343.9,361.2 332.1,361.2 327.9,365.4 321.2,365.4 316.1,360.4 311.1,356.2 306.8,351.1" fill="none" stroke="#FFEBD6" stroke-width="3.4" stroke-linejoin="round"/><polygon points="297.6,341.8 302.6,335.4 350.6,335.4 354.0,339.3 354.8,345.2 357.4,346.9 357.4,358.7 354.0,362.9 348.1,365.4 343.9,361.2 332.1,361.2 327.9,365.4 321.2,365.4 316.1,360.4 311.1,356.2 306.8,351.1" fill="#AB5159" stroke="#EE5B53" stroke-width="1.6" stroke-linejoin="round"/><polygon points="30.0,369.0 55.3,365.2 80.5,361.4 100.7,356.4 115.9,355.1 131.0,353.6 150.0,353.3 170.0,352.5 190.0,351.0 200.0,352.5 212.6,354.0 222.7,352.7 225.3,351.4 229.0,353.0 232.0,355.0 234.0,358.0 238.0,361.0 242.0,362.0 246.0,361.0 250.0,364.0 253.0,368.0 256.0,375.0 262.0,385.0 272.0,400.0 272.0,437.0 263.9,437.0 255.6,436.4 241.7,433.6 227.8,432.2 213.9,429.4 200.0,425.2 190.0,419.5 177.4,423.7 160.0,425.0 150.0,421.5 131.0,417.5 105.8,412.0 80.5,406.9 55.0,399.3 30.0,394.3" fill="#FCF3C0"/><polygon points="30.0,370.5 55.0,367.0 80.5,364.0 105.8,359.5 131.0,355.5 150.0,354.5 172.0,353.5 190.0,353.0 200.0,354.0 212.0,355.0 222.0,354.0 226.0,352.5 229.0,353.0 232.0,355.0 234.0,358.0 238.0,361.0 242.0,362.0 246.0,361.0 250.0,364.0 253.0,368.0 256.0,375.0 262.0,385.0 272.0,400.0 272.0,434.0 255.6,433.6 241.7,430.8 227.8,426.6 213.9,419.7 200.0,414.1 190.0,416.0 178.0,419.5 160.0,421.5 150.0,418.0 131.0,414.0 105.8,409.5 80.5,404.3 55.0,397.5 30.0,393.0" fill="#F3E0A3"/><polygon points="30.0,371.5 55.0,369.0 80.5,366.5 105.8,362.7 131.0,358.9 150.0,357.6 175.0,356.0 200.0,355.0 212.0,356.0 222.0,355.5 227.0,353.5 229.0,353.0 232.0,355.0 234.0,358.0 238.0,361.0 242.0,362.0 246.0,361.0 250.0,364.0 253.0,368.0 256.0,375.0 262.0,385.0 272.0,400.0 272.0,430.0 255.6,429.4 241.7,426.6 227.8,419.7 213.9,410.0 200.0,405.8 190.0,404.0 180.0,408.0 165.0,413.0 150.0,414.5 131.0,410.7 105.8,406.9 80.5,401.8 55.0,395.5 30.0,391.7" fill="#EDCD8D"/><polygon points="30.0,373.0 55.0,371.0 80.5,369.0 105.8,366.0 131.0,362.0 150.0,361.0 175.0,359.0 200.0,356.0 213.0,357.0 223.0,356.5 228.0,355.0 229.0,353.0 232.0,355.0 234.0,358.0 238.0,361.0 242.0,362.0 246.0,361.0 250.0,364.0 253.0,368.0 256.0,375.0 262.0,385.0 272.0,400.0 272.0,426.0 252.8,425.2 241.7,422.5 230.6,416.9 220.8,408.6 211.1,404.4 200.0,401.6 188.0,401.0 175.0,405.0 160.0,408.0 150.0,410.0 131.0,406.0 105.8,403.0 80.5,398.5 55.0,393.0 30.0,390.0" fill="#E6BB70"/><polygon points="30.0,374.0 55.0,372.8 80.5,371.5 105.8,369.0 131.0,365.2 150.0,364.0 175.0,362.0 200.0,357.0 214.0,357.5 224.0,357.0 229.0,356.0 229.0,353.0 232.0,355.0 234.0,358.0 238.0,361.0 242.0,362.0 246.0,361.0 250.0,364.0 253.0,368.0 256.0,375.0 262.0,385.0 272.0,400.0 272.0,422.0 252.8,421.1 245.9,418.3 240.3,415.5 232.0,410.0 225.0,403.0 213.9,401.6 200.0,398.8 190.0,397.0 175.0,401.0 160.0,404.0 150.0,405.6 131.0,401.8 105.8,399.3 80.5,395.5 55.0,390.5 30.0,388.0" fill="#DFA95C"/><polygon points="216.7,405.8 220.8,397.5 224.3,394.7 227.8,398.8 232.0,405.8 236.1,411.3 232.0,412.7 227.8,410.0 223.6,405.8 219.5,410.0" fill="#E6BB70"/><polygon points="30.0,376.0 58.0,377.0 62.0,379.5 84.0,379.5 100.0,376.0 108.0,372.5 150.0,370.0 172.0,366.0 195.0,362.0 206.0,360.0 216.0,360.5 224.0,358.0 230.0,357.0 229.0,353.0 232.0,355.0 234.0,358.0 238.0,361.0 242.0,362.0 246.0,361.0 250.0,364.0 253.0,368.0 256.0,375.0 262.0,385.0 272.0,400.0 272.0,416.0 248.6,411.3 245.9,410.0 241.7,405.8 236.1,401.6 227.8,394.7 220.8,390.5 211.1,393.3 202.8,396.0 190.0,395.0 180.0,399.0 160.0,399.5 130.0,399.5 115.0,398.5 105.0,391.0 95.0,394.0 85.0,392.0 65.0,390.0 55.0,388.5 30.0,386.0" fill="#DA9642"/><polygon points="136.0,401.0 150.0,400.0 158.0,404.0 152.0,410.0 140.0,411.0" fill="#DA9642"/><polygon points="60.0,381.0 86.0,380.5 100.0,377.5 108.0,374.0 150.0,372.5 170.0,369.0 193.0,365.0 214.0,362.5 224.0,356.0 231.0,357.0 238.0,361.5 246.0,362.0 252.0,368.0 252.0,380.0 236.0,382.0 212.0,384.0 208.0,391.5 189.0,392.5 182.0,397.5 162.0,397.5 118.0,397.5 114.0,397.0 106.0,388.0 96.0,388.0 91.0,394.0 87.0,392.5 85.0,389.0 64.0,389.0 60.0,387.0" fill="#D58128"/><polygon points="205.6,410.0 208.0,409.3 211.1,410.5 208.5,412.0 205.6,411.2" fill="#FFFFFF"/><polygon points="62.4,384.8 65.5,382.7 86.6,382.7 89.7,379.4 103.4,379.4 106.6,375.2 150.0,374.2 154.6,372.4 167.4,372.4 172.0,367.8 175.5,370.1 191.7,370.1 195.2,366.6 201.0,365.5 212.5,365.5 216.0,364.3 219.5,359.7 226.4,353.9 229.9,353.9 235.7,358.5 240.3,363.2 245.0,370.1 243.8,378.2 236.8,379.4 232.2,381.7 210.2,382.8 205.6,389.8 188.2,390.5 184.7,394.4 180.1,395.6 176.6,392.1 163.9,395.6 155.0,395.8 116.0,395.8 115.0,395.4 106.6,386.3 96.1,386.3 91.8,392.0 88.7,392.0 86.6,387.0 65.5,387.0" fill="none" stroke="#FFEBD6" stroke-width="3.4" stroke-linejoin="round"/><polygon points="62.4,384.8 65.5,382.7 86.6,382.7 89.7,379.4 103.4,379.4 106.6,375.2 150.0,374.2 154.6,372.4 167.4,372.4 172.0,367.8 175.5,370.1 191.7,370.1 195.2,366.6 201.0,365.5 212.5,365.5 216.0,364.3 219.5,359.7 226.4,353.9 229.9,353.9 235.7,358.5 240.3,363.2 245.0,370.1 243.8,378.2 236.8,379.4 232.2,381.7 210.2,382.8 205.6,389.8 188.2,390.5 184.7,394.4 180.1,395.6 176.6,392.1 163.9,395.6 155.0,395.8 116.0,395.8 115.0,395.4 106.6,386.3 96.1,386.3 91.8,392.0 88.7,392.0 86.6,387.0 65.5,387.0" fill="#AB5159" stroke="#EE5B53" stroke-width="1.6" stroke-linejoin="round"/><polygon points="98.8,457.7 102.6,453.9 115.3,453.9 122.8,456.4 133.0,459.0 145.6,461.5 160.7,464.0 170.8,470.3 181.0,480.4 191.0,490.5 198.6,500.6 200.0,505.0 100.0,505.0 105.2,495.6 112.7,485.5 115.3,475.4 112.7,467.8 102.6,461.5" fill="#FCF3C0"/><polygon points="117.8,459.0 127.9,460.2 143.0,464.0 155.7,467.8 165.8,472.8 175.9,483.0 186.0,493.0 193.6,505.0 112.0,505.0 114.0,490.5 116.0,475.4" fill="#F3E0A3"/><polygon points="116.7,468.4 131.9,468.4 137.0,471.7 143.7,476.0 150.0,481.0 158.0,482.0 165.6,481.8 174.0,486.9 182.4,495.3 187.5,505.0 116.7,505.0" fill="#EDCD8D"/><polygon points="152.0,471.0 156.0,470.5 158.0,474.0 154.0,475.5" fill="#FCF3C0"/><polygon points="126.8,481.8 135.3,475.1 143.7,478.5 150.4,483.5 160.5,483.5 169.0,486.9 180.7,495.3 184.1,505.0 120.0,505.0 121.0,492.0" fill="#E6BB70"/><polygon points="125.2,488.6 131.9,483.5 140.3,483.5 147.1,488.6 153.8,490.3 160.5,488.6 167.3,492.0 174.0,493.6 177.4,498.7 179.0,505.0 121.0,505.0 122.0,495.0" fill="#DFA95C"/><polygon points="126.8,493.6 133.6,486.9 140.3,488.6 143.7,493.6 150.4,491.9 158.8,491.9 163.9,497.0 165.6,505.0 123.0,505.0 123.0,498.0" fill="#DA9642"/><polygon points="163.9,496.0 168.0,495.3 172.3,497.0 168.0,498.7" fill="#DA9642"/><polygon points="126.0,498.7 131.9,497.0 142.0,498.7 147.0,501.2 150.4,505.0 123.0,505.0" fill="#D58128"/><polygon points="126.8,500.4 133.0,500.0 137.0,503.0 137.0,505.0 125.0,505.0" fill="#CC6C0E"/><g transform="translate(0,258)"><path d="M151.4 33.5 L152.2 34.9 L153.1 35.7 L153.2 37.0 L153.9 38.0 L154.4 38.9 L154.4 39.7 L155.4 41.0 L156.5 42.1 L157.1 44.1 L157.4 44.5 L159.1 44.7 L160.1 45.3 L161.6 45.7 L161.9 46.3 L162.7 46.5 L163.6 47.2 L164.3 48.3 L164.5 49.0 L164.6 49.5 L165.5 50.8 L166.3 52.3 L167.0 54.0 L167.4 54.8 L168.7 56.0 L170.0 57.2 L170.8 59.0 L171.3 60.7 L169.0 61.0 L170.4 62.1 L172.1 63.5 L173.8 65.0 L174.9 66.4 L175.3 68.3 L176.4 69.2 L177.9 70.6 L179.4 72.3 L180.0 72.7 L180.9 72.0 L180.2 70.2 L179.2 69.7 L178.3 68.5 L177.0 65.9 L176.4 64.3 L175.1 62.6 L173.8 60.9 L172.7 59.2 L172.1 57.5 L170.6 55.8 L169.8 53.3 L169.5 51.3 L170.8 52.0 L172.3 52.5 L173.6 53.3 L175.1 56.0 L175.5 57.7 L177.2 60.7 L177.9 60.9 L178.7 62.3 L180.9 64.0 L181.5 65.9 L183.2 67.3 L184.9 69.0 L186.4 70.6 L187.5 72.0 L188.8 73.4 L189.6 75.3 L190.1 76.9 L189.8 78.0 L189.0 78.5 L189.4 79.6 L190.7 81.0 L192.0 81.4 L193.7 82.6 L195.6 83.9 L197.1 84.6 L199.0 85.7 L201.4 86.6 L203.3 87.3 L205.4 87.9 L207.6 88.8 L208.6 89.1 L209.9 88.6 L211.4 87.9 L212.7 87.9 L214.0 88.4 L215.7 89.7 L217.6 91.5 L219.3 92.9 L221.3 93.0 L223.0 93.9 L224.9 94.6 L226.8 94.8 L227.4 94.3 L228.1 95.2 L229.4 96.5 L231.1 98.3 L231.7 99.4 L231.3 100.7 L231.7 101.7 L233.0 102.4 L233.4 101.7 L234.1 102.4 L235.4 103.5 L236.2 104.6 L236.8 105.2 L237.7 105.6 L239.2 105.4 L240.7 106.5 L242.0 107.6 L243.0 107.1 L243.5 106.1 L243.0 105.2 L244.3 103.9 L245.0 103.7 L246.3 104.1 L247.3 105.0 L248.0 105.9 L248.4 107.6 L248.6 108.0 L249.5 109.1 L249.2 111.0 L249.7 113.4 L249.9 114.7 L249.0 115.9 L247.7 117.4 L246.7 119.2 L246.0 120.4 L244.5 120.9 L243.7 121.7 L243.0 123.0 L242.8 124.3 L242.0 125.1 L242.0 126.4 L242.2 127.7 L243.5 128.3 L244.1 129.2 L243.3 130.3 L242.6 130.7 L241.8 131.6 L241.1 132.8 L241.3 134.1 L242.0 135.4 L244.1 137.6 L245.2 139.1 L246.0 140.4 L247.1 142.7 L248.2 144.9 L249.0 146.6 L250.1 148.8 L251.2 151.0 L252.0 152.5 L252.4 153.6 L253.5 155.4 L254.6 156.7 L256.7 158.1 L258.9 159.4 L261.0 160.5 L262.5 161.4 L264.0 162.5 L264.6 163.4 L264.8 165.5 L265.1 167.8 L264.8 170.0 L264.6 172.3 L264.2 174.7 L264.4 177.0 L264.2 179.4 L263.6 181.7 L263.1 184.1 L262.5 186.6 L262.3 189.0 L261.8 191.5 L261.8 194.0 L262.1 196.5 L261.6 199.0 L261.2 201.6 L260.4 204.2 L259.5 206.0 L258.6 207.6 L257.6 209.5 L258.0 212.2 L258.2 215.0 L257.4 217.2 L257.1 219.2 L257.8 221.2 L258.9 221.5 L259.3 223.5 L259.3 226.4 L258.4 228.8 L257.8 230.9 L256.7 233.3 L253.7 235.1 L253.3 236.4 L255.4 237.0 L255.7 238.6 L253.9 240.8 L253.5 243.4 L253.7 246.7 L254.6 250.0 L254.6 257.0 L267.4 257.0 L267.4 250.0 L268.7 247.0 L270.2 244.4 L271.2 242.4 L273.2 240.2 L274.0 239.4 L274.2 237.6 L272.1 236.4 L270.4 235.1 L270.6 233.6 L271.7 232.4 L273.4 230.9 L274.9 230.9 L276.0 229.7 L275.5 227.9 L276.0 225.8 L277.0 224.6 L278.9 224.3 L278.5 222.3 L277.7 222.0 L276.0 222.0 L276.0 219.2 L278.1 218.9 L280.2 219.5 L281.9 218.0 L281.7 216.1 L282.4 213.6 L283.9 213.3 L286.6 213.1 L289.4 212.2 L291.8 211.1 L292.2 209.3 L293.7 206.3 L292.8 205.0 L292.2 203.9 L290.5 202.4 L290.1 201.9 L289.8 201.3 L290.9 200.6 L291.3 201.3 L293.7 202.1 L294.8 202.6 L296.7 202.4 L297.5 202.8 L299.2 201.6 L300.5 199.8 L301.4 198.3 L302.9 196.2 L303.5 195.2 L305.4 192.7 L306.7 190.7 L308.0 188.5 L309.5 186.8 L310.8 185.3 L311.0 183.7 L311.0 181.5 L311.2 179.6 L312.5 178.4 L314.4 177.0 L315.9 175.8 L318.0 175.1 L319.5 174.2 L320.8 173.5 L322.5 173.5 L325.1 173.3 L325.3 172.6 L327.2 171.2 L327.4 169.4 L328.7 167.3 L330.0 165.5 L330.2 163.2 L331.1 161.4 L331.5 158.7 L331.7 155.4 L331.5 153.2 L331.9 151.7 L332.6 151.0 L334.1 149.5 L335.4 147.3 L337.1 145.6 L338.6 143.8 L339.8 142.1 L340.3 140.4 L340.5 138.2 L340.1 136.5 L339.6 135.0 L339.0 134.0 L337.1 133.7 L335.1 133.1 L333.6 132.0 L332.6 130.9 L330.2 129.4 L328.3 129.0 L325.5 129.2 L323.0 128.1 L320.2 128.3 L319.1 126.4 L316.5 125.1 L314.4 124.5 L312.7 124.3 L311.4 125.6 L311.2 126.2 L309.7 126.8 L307.1 127.1 L306.1 125.8 L305.2 124.5 L305.7 123.2 L306.5 122.1 L307.4 121.1 L308.0 119.4 L306.9 118.5 L305.9 116.2 L305.2 114.4 L304.6 114.0 L303.7 113.2 L301.8 111.7 L299.5 110.6 L297.3 110.2 L295.2 110.4 L292.6 110.4 L290.9 108.4 L289.4 107.4 L287.1 105.2 L284.9 104.6 L283.2 101.7 L281.7 100.4 L282.6 100.0 L280.2 100.0 L277.7 100.4 L276.8 101.3 L274.2 101.1 L272.1 100.2 L270.0 100.4 L268.9 99.6 L267.8 98.5 L265.9 98.3 L264.8 97.4 L265.3 96.7 L264.6 98.1 L263.1 98.1 L262.3 99.4 L261.2 98.1 L260.6 97.4 L261.6 96.3 L259.5 97.8 L258.2 98.7 L256.3 98.9 L255.0 99.4 L253.5 100.7 L253.3 102.4 L252.0 103.0 L250.7 104.6 L250.5 106.1 L249.5 104.6 L248.4 103.3 L247.1 102.6 L245.0 102.4 L243.9 103.0 L241.8 104.1 L240.3 103.7 L239.2 103.3 L238.3 102.6 L237.5 101.5 L236.4 100.2 L236.0 99.1 L236.0 97.2 L236.4 96.1 L236.4 93.9 L236.8 91.9 L237.1 90.6 L235.4 89.9 L233.2 88.6 L231.1 88.4 L228.9 88.8 L226.8 89.0 L225.7 88.6 L226.4 87.5 L226.2 85.0 L226.6 83.0 L227.2 82.8 L227.9 80.5 L228.9 78.5 L229.4 76.6 L228.7 75.7 L226.4 76.0 L223.2 76.4 L221.9 77.1 L221.5 79.4 L221.0 80.7 L219.5 81.9 L218.7 82.6 L217.2 82.6 L215.1 83.0 L213.1 83.7 L211.8 82.8 L210.1 82.1 L209.5 81.2 L208.9 79.8 L207.6 78.0 L206.7 76.4 L205.9 74.3 L206.1 72.5 L206.5 70.2 L206.7 67.8 L207.1 65.7 L206.9 63.5 L206.7 61.9 L207.6 60.7 L209.3 59.4 L211.8 57.7 L214.0 56.5 L216.1 56.3 L218.3 56.8 L220.0 57.7 L222.1 58.0 L223.8 58.2 L224.2 57.5 L223.4 55.3 L225.7 54.8 L227.9 55.0 L230.0 54.8 L232.1 55.8 L233.6 56.5 L235.4 55.8 L236.8 57.5 L238.1 59.4 L238.1 61.9 L239.2 63.8 L240.3 65.7 L241.5 67.3 L243.0 67.1 L243.7 65.5 L243.9 63.1 L243.0 60.9 L242.6 59.7 L241.8 57.7 L241.1 55.8 L240.9 54.0 L241.3 52.0 L242.0 50.8 L243.9 49.0 L245.6 47.7 L247.1 46.0 L248.6 45.2 L250.3 43.9 L251.8 43.4 L253.5 42.3 L253.3 40.5 L252.7 38.1 L252.0 37.8 L251.8 36.5 L252.4 35.1 L252.7 33.5 L252.7 26.8 L151.4 26.8 Z M394.5 32.9 L395.2 34.0 L396.0 35.1 L396.0 37.0 L395.6 37.8 L397.7 37.6 L399.0 37.3 L401.2 38.4 L402.0 39.7 L402.9 40.5 L405.2 38.6 L407.4 38.6 L407.4 26.8 L394.5 26.8 Z M407.4 42.3 L403.5 40.7 L402.2 41.0 L401.6 42.3 L400.3 45.2 L398.6 46.7 L396.7 47.7 L395.2 50.0 L393.9 52.0 L394.3 54.8 L393.9 56.8 L392.2 58.5 L390.3 60.2 L387.3 60.8 L385.8 63.1 L383.9 65.2 L383.0 67.3 L380.9 70.9 L380.0 73.0 L378.9 75.0 L378.4 77.6 L379.6 78.9 L380.2 80.5 L379.6 81.7 L380.4 83.7 L380.4 86.1 L379.6 88.4 L378.3 90.6 L377.4 91.3 L378.5 92.1 L378.9 93.9 L379.2 95.4 L379.2 96.5 L380.2 97.6 L381.9 99.1 L383.2 100.2 L384.3 101.5 L385.6 102.6 L386.6 103.9 L386.6 105.4 L388.1 106.9 L390.3 108.2 L391.8 109.3 L393.5 110.6 L395.6 112.3 L398.6 113.6 L399.9 113.6 L402.4 112.3 L406.3 111.9 L408.4 112.1 L414.8 112.1 L414.8 42.3 Z M233.3 75.2 L234.5 74.8 L237.5 72.7 L239.6 72.0 L241.8 72.3 L243.9 72.7 L246.0 73.7 L248.2 74.1 L250.3 75.7 L252.4 76.6 L254.6 77.8 L256.4 78.8 L255.7 79.4 L253.5 79.6 L250.3 79.6 L248.8 79.7 L249.9 78.5 L248.2 77.8 L246.9 76.0 L245.0 75.7 L242.8 74.8 L240.7 74.3 L239.6 73.9 L237.5 74.3 L235.4 75.0 L233.3 75.2 Z M255.8 83.0 L258.9 83.5 L260.4 83.5 L262.1 84.6 L263.1 83.5 L265.3 83.5 L267.4 83.0 L268.8 82.6 L267.6 81.7 L266.1 81.2 L265.3 80.1 L263.1 79.6 L261.0 79.8 L258.0 79.6 L259.5 80.7 L259.3 81.9 L257.8 82.6 L255.8 83.0 Z M247.4 83.2 L249.2 82.8 L251.6 83.5 L251.8 84.1 L249.9 84.6 L247.7 83.7 L247.4 83.2 Z M256.9 221.5 L256.3 223.5 L256.5 225.8 L257.6 226.1 L258.0 223.5 L257.6 221.7 L256.9 221.5 Z M81.7 78.9 L83.6 79.8 L84.1 80.5 L82.4 81.9 L81.7 80.7 L81.7 78.9 Z M306.5 123.4 L308.0 123.2 L309.5 123.2 L311.2 124.3 L311.4 125.1 L310.8 126.2 L309.1 126.4 L307.4 126.4 L306.3 125.6 L306.1 124.3 L306.5 123.4 Z M307.4 122.4 L308.4 122.1 L308.6 123.0 L307.6 123.1 L307.4 122.4 Z" fill="#fff" stroke="none"/><path d="M151.4 33.5 L152.2 34.9 L153.1 35.7 L153.2 37.0 L153.9 38.0 L154.4 38.9 L154.4 39.7 L155.4 41.0 L156.5 42.1 L157.1 44.1 L157.4 44.5 L159.1 44.7 L160.1 45.3 L161.6 45.7 L161.9 46.3 L162.7 46.5 L163.6 47.2 L164.3 48.3 L164.5 49.0 L164.6 49.5 L165.5 50.8 L166.3 52.3 L167.0 54.0 L167.4 54.8 L168.7 56.0 L170.0 57.2 L170.8 59.0 L171.3 60.7 L169.0 61.0 L170.4 62.1 L172.1 63.5 L173.8 65.0 L174.9 66.4 L175.3 68.3 L176.4 69.2 L177.9 70.6 L179.4 72.3 L180.0 72.7 L180.9 72.0 L180.2 70.2 L179.2 69.7 L178.3 68.5 L177.0 65.9 L176.4 64.3 L175.1 62.6 L173.8 60.9 L172.7 59.2 L172.1 57.5 L170.6 55.8 L169.8 53.3 L169.5 51.3 L170.8 52.0 L172.3 52.5 L173.6 53.3 L175.1 56.0 L175.5 57.7 L177.2 60.7 L177.9 60.9 L178.7 62.3 L180.9 64.0 L181.5 65.9 L183.2 67.3 L184.9 69.0 L186.4 70.6 L187.5 72.0 L188.8 73.4 L189.6 75.3 L190.1 76.9 L189.8 78.0 L189.0 78.5 L189.4 79.6 L190.7 81.0 L192.0 81.4 L193.7 82.6 L195.6 83.9 L197.1 84.6 L199.0 85.7 L201.4 86.6 L203.3 87.3 L205.4 87.9 L207.6 88.8 L208.6 89.1 L209.9 88.6 L211.4 87.9 L212.7 87.9 L214.0 88.4 L215.7 89.7 L217.6 91.5 L219.3 92.9 L221.3 93.0 L223.0 93.9 L224.9 94.6 L226.8 94.8 L227.4 94.3 L228.1 95.2 L229.4 96.5 L231.1 98.3 L231.7 99.4 L231.3 100.7 L231.7 101.7 L233.0 102.4 L233.4 101.7 L234.1 102.4 L235.4 103.5 L236.2 104.6 L236.8 105.2 L237.7 105.6 L239.2 105.4 L240.7 106.5 L242.0 107.6 L243.0 107.1 L243.5 106.1 L243.0 105.2 L244.3 103.9 L245.0 103.7 L246.3 104.1 L247.3 105.0 L248.0 105.9 L248.4 107.6 L248.6 108.0 L249.5 109.1 L249.2 111.0 L249.7 113.4 L249.9 114.7 L249.0 115.9 L247.7 117.4 L246.7 119.2 L246.0 120.4 L244.5 120.9 L243.7 121.7 L243.0 123.0 L242.8 124.3 L242.0 125.1 L242.0 126.4 L242.2 127.7 L243.5 128.3 L244.1 129.2 L243.3 130.3 L242.6 130.7 L241.8 131.6 L241.1 132.8 L241.3 134.1 L242.0 135.4 L244.1 137.6 L245.2 139.1 L246.0 140.4 L247.1 142.7 L248.2 144.9 L249.0 146.6 L250.1 148.8 L251.2 151.0 L252.0 152.5 L252.4 153.6 L253.5 155.4 L254.6 156.7 L256.7 158.1 L258.9 159.4 L261.0 160.5 L262.5 161.4 L264.0 162.5 L264.6 163.4 L264.8 165.5 L265.1 167.8 L264.8 170.0 L264.6 172.3 L264.2 174.7 L264.4 177.0 L264.2 179.4 L263.6 181.7 L263.1 184.1 L262.5 186.6 L262.3 189.0 L261.8 191.5 L261.8 194.0 L262.1 196.5 L261.6 199.0 L261.2 201.6 L260.4 204.2 L259.5 206.0 L258.6 207.6 L257.6 209.5 L258.0 212.2 L258.2 215.0 L257.4 217.2 L257.1 219.2 L257.8 221.2 L258.9 221.5 L259.3 223.5 L259.3 226.4 L258.4 228.8 L257.8 230.9 L256.7 233.3 L253.7 235.1 L253.3 236.4 L255.4 237.0 L255.7 238.6 L253.9 240.8 L253.5 243.4 L253.7 246.7 L254.6 250.0 M256.9 221.5 L256.3 223.5 L256.5 225.8 L257.6 226.1 L258.0 223.5 L257.6 221.7 L256.9 221.5 M267.4 250.0 L268.7 247.0 L270.2 244.4 L271.2 242.4 L273.2 240.2 L274.0 239.4 L274.2 237.6 L272.1 236.4 L270.4 235.1 L270.6 233.6 L271.7 232.4 L273.4 230.9 L274.9 230.9 L276.0 229.7 L275.5 227.9 L276.0 225.8 L277.0 224.6 L278.9 224.3 L278.5 222.3 L277.7 222.0 L276.0 222.0 L276.0 219.2 L278.1 218.9 L280.2 219.5 L281.9 218.0 L281.7 216.1 L282.4 213.6 L283.9 213.3 L286.6 213.1 L289.4 212.2 L291.8 211.1 L292.2 209.3 L293.7 206.3 L292.8 205.0 L292.2 203.9 L290.5 202.4 L290.1 201.9 L289.8 201.3 L290.9 200.6 L291.3 201.3 L293.7 202.1 L294.8 202.6 L296.7 202.4 L297.5 202.8 L299.2 201.6 L300.5 199.8 L301.4 198.3 L302.9 196.2 L303.5 195.2 L305.4 192.7 L306.7 190.7 L308.0 188.5 L309.5 186.8 L310.8 185.3 L311.0 183.7 L311.0 181.5 L311.2 179.6 L312.5 178.4 L314.4 177.0 L315.9 175.8 L318.0 175.1 L319.5 174.2 L320.8 173.5 L322.5 173.5 L325.1 173.3 L325.3 172.6 L327.2 171.2 L327.4 169.4 L328.7 167.3 L330.0 165.5 L330.2 163.2 L331.1 161.4 L331.5 158.7 L331.7 155.4 L331.5 153.2 L331.9 151.7 L332.6 151.0 L334.1 149.5 L335.4 147.3 L337.1 145.6 L338.6 143.8 L339.8 142.1 L340.3 140.4 L340.5 138.2 L340.1 136.5 L339.6 135.0 L339.0 134.0 L337.1 133.7 L335.1 133.1 L333.6 132.0 L332.6 130.9 L330.2 129.4 L328.3 129.0 L325.5 129.2 L323.0 128.1 L320.2 128.3 L319.1 126.4 L316.5 125.1 L314.4 124.5 L312.7 124.3 L311.4 125.6 L311.2 126.2 L309.7 126.8 L307.1 127.1 L306.1 125.8 L305.2 124.5 L305.7 123.2 L306.5 122.1 L307.4 121.1 L308.0 119.4 L306.9 118.5 L305.9 116.2 L305.2 114.4 L304.6 114.0 L303.7 113.2 L301.8 111.7 L299.5 110.6 L297.3 110.2 L295.2 110.4 L292.6 110.4 L290.9 108.4 L289.4 107.4 L287.1 105.2 L284.9 104.6 L283.2 101.7 L281.7 100.4 L282.6 100.0 L280.2 100.0 L277.7 100.4 L276.8 101.3 L274.2 101.1 L272.1 100.2 L270.0 100.4 L268.9 99.6 L267.8 98.5 L265.9 98.3 L264.8 97.4 L265.3 96.7 L264.6 98.1 L263.1 98.1 L262.3 99.4 L261.2 98.1 L260.6 97.4 L261.6 96.3 L259.5 97.8 L258.2 98.7 L256.3 98.9 L255.0 99.4 L253.5 100.7 L253.3 102.4 L252.0 103.0 L250.7 104.6 L250.5 106.1 L249.5 104.6 L248.4 103.3 L247.1 102.6 L245.0 102.4 L243.9 103.0 L241.8 104.1 L240.3 103.7 L239.2 103.3 L238.3 102.6 L237.5 101.5 L236.4 100.2 L236.0 99.1 L236.0 97.2 L236.4 96.1 L236.4 93.9 L236.8 91.9 L237.1 90.6 L235.4 89.9 L233.2 88.6 L231.1 88.4 L228.9 88.8 L226.8 89.0 L225.7 88.6 L226.4 87.5 L226.2 85.0 L226.6 83.0 L227.2 82.8 L227.9 80.5 L228.9 78.5 L229.4 76.6 L228.7 75.7 L226.4 76.0 L223.2 76.4 L221.9 77.1 L221.5 79.4 L221.0 80.7 L219.5 81.9 L218.7 82.6 L217.2 82.6 L215.1 83.0 L213.1 83.7 L211.8 82.8 L210.1 82.1 L209.5 81.2 L208.9 79.8 L207.6 78.0 L206.7 76.4 L205.9 74.3 L206.1 72.5 L206.5 70.2 L206.7 67.8 L207.1 65.7 L206.9 63.5 L206.7 61.9 L207.6 60.7 L209.3 59.4 L211.8 57.7 L214.0 56.5 L216.1 56.3 L218.3 56.8 L220.0 57.7 L222.1 58.0 L223.8 58.2 L224.2 57.5 L223.4 55.3 L225.7 54.8 L227.9 55.0 L230.0 54.8 L232.1 55.8 L233.6 56.5 L235.4 55.8 L236.8 57.5 L238.1 59.4 L238.1 61.9 L239.2 63.8 L240.3 65.7 L241.5 67.3 L243.0 67.1 L243.7 65.5 L243.9 63.1 L243.0 60.9 L242.6 59.7 L241.8 57.7 L241.1 55.8 L240.9 54.0 L241.3 52.0 L242.0 50.8 L243.9 49.0 L245.6 47.7 L247.1 46.0 L248.6 45.2 L250.3 43.9 L251.8 43.4 L253.5 42.3 L253.3 40.5 L252.7 38.1 L252.0 37.8 L251.8 36.5 L252.4 35.1 L252.7 33.5 M233.3 75.2 L234.5 74.8 L237.5 72.7 L239.6 72.0 L241.8 72.3 L243.9 72.7 L246.0 73.7 L248.2 74.1 L250.3 75.7 L252.4 76.6 L254.6 77.8 L256.4 78.8 L255.7 79.4 L253.5 79.6 L250.3 79.6 L248.8 79.7 L249.9 78.5 L248.2 77.8 L246.9 76.0 L245.0 75.7 L242.8 74.8 L240.7 74.3 L239.6 73.9 L237.5 74.3 L235.4 75.0 L233.3 75.2 M255.8 83.0 L258.9 83.5 L260.4 83.5 L262.1 84.6 L263.1 83.5 L265.3 83.5 L267.4 83.0 L268.8 82.6 L267.6 81.7 L266.1 81.2 L265.3 80.1 L263.1 79.6 L261.0 79.8 L258.0 79.6 L259.5 80.7 L259.3 81.9 L257.8 82.6 L255.8 83.0 M247.4 83.2 L249.2 82.8 L251.6 83.5 L251.8 84.1 L249.9 84.6 L247.7 83.7 L247.4 83.2 M81.7 78.9 L83.6 79.8 L84.1 80.5 L82.4 81.9 L81.7 80.7 L81.7 78.9 M394.5 32.9 L395.2 34.0 L396.0 35.1 L396.0 37.0 L395.6 37.8 L397.7 37.6 L399.0 37.3 L401.2 38.4 L402.0 39.7 L402.9 40.5 L405.2 38.6 L407.4 38.6 M407.4 42.3 L403.5 40.7 L402.2 41.0 L401.6 42.3 L400.3 45.2 L398.6 46.7 L396.7 47.7 L395.2 50.0 L393.9 52.0 L394.3 54.8 L393.9 56.8 L392.2 58.5 L390.3 60.2 L387.3 60.8 L385.8 63.1 L383.9 65.2 L383.0 67.3 L380.9 70.9 L380.0 73.0 L378.9 75.0 L378.4 77.6 L379.6 78.9 L380.2 80.5 L379.6 81.7 L380.4 83.7 L380.4 86.1 L379.6 88.4 L378.3 90.6 L377.4 91.3 L378.5 92.1 L378.9 93.9 L379.2 95.4 L379.2 96.5 L380.2 97.6 L381.9 99.1 L383.2 100.2 L384.3 101.5 L385.6 102.6 L386.6 103.9 L386.6 105.4 L388.1 106.9 L390.3 108.2 L391.8 109.3 L393.5 110.6 L395.6 112.3 L398.6 113.6 L399.9 113.6 L402.4 112.3 L406.3 111.9 L408.4 112.1 M306.5 123.4 L308.0 123.2 L309.5 123.2 L311.2 124.3 L311.4 125.1 L310.8 126.2 L309.1 126.4 L307.4 126.4 L306.3 125.6 L306.1 124.3 L306.5 123.4 M307.4 122.4 L308.4 122.1 L308.6 123.0 L307.6 123.1 L307.4 122.4" fill="none" stroke="#000" stroke-width="1.6" stroke-linejoin="round"/><path d="M164.6 49.5 L169.8 49.0 L177.4 52.5 L183.6 52.5 L183.6 51.3 L187.3 51.3 L190.5 54.0 L191.6 56.8 L194.5 58.2 L196.0 56.3 L198.2 56.3 L200.5 60.2 L202.2 61.9 L203.1 64.5 L207.1 65.7 M217.8 91.7 L217.8 89.9 L218.9 88.1 L221.7 88.1 L221.7 84.4 L224.3 84.4 L226.2 82.8 M224.3 84.4 L224.2 88.6 L226.4 89.0 M224.2 88.6 L224.2 91.9 L222.3 93.5 M224.2 91.9 L226.8 93.0 L227.2 94.1 M227.9 95.0 L229.6 94.3 L231.7 92.8 L233.9 91.5 L237.1 90.6 M231.7 99.1 L233.9 99.4 L236.0 99.6 M237.7 105.9 L237.9 103.7 L238.3 102.4 M248.4 107.6 L249.5 106.1 L249.9 104.6 M262.5 97.6 L260.6 99.1 L259.9 101.5 L259.1 103.7 L260.1 105.9 L261.0 108.0 L265.1 108.0 L266.5 109.9 L270.0 109.7 L270.6 111.2 L270.0 113.4 L271.0 115.5 L270.0 117.0 L271.2 118.3 L271.9 120.4 M271.9 120.4 L269.8 119.2 L266.3 120.7 L266.1 121.7 L265.3 121.9 L265.3 123.4 L266.5 125.8 L265.5 132.0 M246.5 120.0 L249.2 121.3 L251.4 122.4 L253.9 123.2 M253.9 123.2 L256.7 126.2 L258.9 128.1 L261.0 128.1 L263.8 131.1 L265.5 132.0 M243.3 130.3 L244.3 132.4 L246.0 133.7 L247.5 130.3 L250.3 128.6 L253.3 126.2 L253.9 123.2 M265.5 132.0 L261.0 134.1 L258.9 136.9 L257.1 139.1 L258.4 142.3 L260.6 144.5 L264.0 146.6 L266.1 146.5 M266.1 146.5 L268.0 149.9 L267.4 153.2 L266.5 156.1 L267.6 158.3 L266.3 161.0 L265.7 161.4 L264.4 162.9 M266.3 161.0 L268.5 163.2 L268.0 165.9 L269.1 169.6 L270.0 173.3 M266.1 146.5 L268.0 146.9 L271.7 145.6 L275.1 144.0 L275.3 147.7 L278.1 149.9 L282.4 152.1 L284.5 152.8 L285.8 152.3 L286.2 155.6 L285.8 158.3 L290.1 158.3 L290.3 160.5 L291.5 161.6 L290.9 166.2 M290.9 166.2 L288.6 165.0 L283.0 165.7 L281.7 167.8 L281.1 171.7 M281.1 171.7 L277.4 173.0 L275.5 171.4 L273.2 170.7 L271.2 172.8 L270.0 173.3 M270.0 173.3 L271.0 175.8 L268.7 178.4 L268.3 182.9 L267.2 186.6 L265.3 190.2 L265.3 195.2 L265.3 199.0 L264.4 202.9 L263.3 206.8 L262.9 210.9 L261.6 215.0 L261.4 219.2 L261.6 223.5 L261.8 227.9 L261.4 232.4 L261.0 237.0 L259.9 241.8 L258.4 245.0 L258.2 249.0 M281.1 171.7 L284.5 174.7 L287.7 177.0 L291.8 179.1 L294.1 183.9 L296.0 183.7 L298.2 179.6 M298.2 179.6 L298.8 175.8 L296.5 175.6 L295.6 171.9 L291.1 171.4 L290.9 166.2 M298.2 179.6 L299.9 182.5 L295.6 185.3 L291.8 190.7 M291.8 190.7 L290.7 195.2 L290.1 200.0 M291.8 190.7 L295.2 192.7 L297.3 193.5 L300.5 196.5 L300.7 199.5 M271.9 120.4 L273.8 121.3 L276.0 120.9 L278.1 118.7 L278.1 115.5 L280.7 114.4 L284.5 113.4 L285.4 111.9 M285.4 111.9 L283.9 110.2 L284.5 108.0 L286.6 104.8 M285.4 111.9 L286.6 112.3 L286.8 116.6 L287.5 119.2 L289.8 120.2 L293.0 118.9 M293.0 118.9 L291.1 114.4 L292.8 110.4 M293.0 118.9 L297.3 118.1 L299.5 118.3 M299.5 118.3 L298.6 114.4 L299.5 110.8 M299.5 118.3 L301.8 118.3 L304.6 114.0 M396.2 61.4 L386.6 61.4 M378.4 77.6 L387.1 76.4 L387.1 72.5 L389.2 71.3 L389.2 65.5 L396.2 65.5 L396.2 62.3 M396.2 61.4 L396.2 59.0 L404.2 55.8 L408.4 54.5 M396.2 62.3 L404.6 67.8 M400.9 68.1 L403.1 87.5 L403.1 89.5 L394.8 89.5 L392.0 90.4 L390.5 89.3 L388.8 91.3 M379.6 88.1 L382.8 87.0 L384.9 87.0 L387.1 89.5 L388.8 91.3 M388.8 91.3 L390.3 93.9 L389.2 96.1 M378.9 93.7 L385.3 93.7 L385.3 94.3 L379.2 94.6 M379.2 96.3 L385.6 95.6 M382.6 99.6 L385.6 97.4 L385.6 95.6 L390.3 96.3 L392.2 97.4 L395.6 96.7 L396.7 99.4 L398.0 101.1 M386.4 103.7 L389.2 102.0 L392.2 103.5 L392.8 105.9 L390.3 108.2 M392.8 104.8 L394.5 104.8 L396.7 106.7 L398.8 113.6 M397.7 101.1 L401.6 101.1 L403.3 100.7 L405.2 102.0 M403.3 100.7 L403.1 98.3 L405.6 96.1 L408.4 95.0" fill="none" stroke="#000" stroke-width="1.45" stroke-linejoin="round"/></g><g stroke="#5e5e5e" stroke-width="1"><line x1="115.7" y1="293.0" x2="115.7" y2="505.0"/><line x1="201.0" y1="293.0" x2="201.0" y2="505.0"/><line x1="286.5" y1="293.0" x2="286.5" y2="505.0"/><line x1="372.1" y1="293.0" x2="372.1" y2="505.0"/><line x1="30" y1="381.0" x2="406" y2="381.0"/><line x1="30" y1="474.3" x2="406" y2="474.3"/></g><rect x="271" y="380.8" width="31" height="27.7" fill="#4F81BD"/></g><rect x="30.3" y="293.3" width="375.8" height="211.3" fill="none" stroke="#3c3c3c" stroke-width="1.4"/>
<g font-size="10.5" fill="#111" stroke="#111" stroke-width="0.2"><text x="17.6" y="29.4" textLength="25.5" lengthAdjust="spacingAndGlyphs">180°</text><text x="97.5" y="29.4" textLength="36.5" lengthAdjust="spacingAndGlyphs">140°W</text><text x="183.1" y="29.4" textLength="36.0" lengthAdjust="spacingAndGlyphs">100°W</text><text x="271.8" y="29.4" textLength="29.4" lengthAdjust="spacingAndGlyphs">60°W</text><text x="357.7" y="29.4" textLength="29.6" lengthAdjust="spacingAndGlyphs">20°W</text><text x="15.7" y="126.2" textLength="11.1" lengthAdjust="spacingAndGlyphs">0°</text><text x="1.7" y="219.6" textLength="24.6" lengthAdjust="spacingAndGlyphs">40°S</text></g>
<g font-size="10.5" fill="#111" stroke="#111" stroke-width="0.2"><text x="17.6" y="287.4" textLength="25.5" lengthAdjust="spacingAndGlyphs">180°</text><text x="97.5" y="287.4" textLength="36.5" lengthAdjust="spacingAndGlyphs">140°W</text><text x="183.1" y="287.4" textLength="36.0" lengthAdjust="spacingAndGlyphs">100°W</text><text x="271.8" y="287.4" textLength="29.4" lengthAdjust="spacingAndGlyphs">60°W</text><text x="357.7" y="287.4" textLength="29.6" lengthAdjust="spacingAndGlyphs">20°W</text><text x="15.7" y="384.2" textLength="11.1" lengthAdjust="spacingAndGlyphs">0°</text><text x="1.7" y="477.6" textLength="24.6" lengthAdjust="spacingAndGlyphs">40°S</text></g>
<rect x="425.0" y="221.38" width="18.8" height="25.43" fill="#FCF3C0"/><rect x="425.0" y="196.25" width="18.8" height="25.43" fill="#F3E0A3"/><rect x="425.0" y="171.12" width="18.8" height="25.43" fill="#EDCD8D"/><rect x="425.0" y="146.00" width="18.8" height="25.43" fill="#E6BB70"/><rect x="425.0" y="120.88" width="18.8" height="25.43" fill="#DFA95C"/><rect x="425.0" y="95.75" width="18.8" height="25.43" fill="#DA9642"/><rect x="425.0" y="70.62" width="18.8" height="25.43" fill="#D58128"/><rect x="425.0" y="45.50" width="18.8" height="25.43" fill="#CC6C0E"/><polygon points="425.0,45.5 434.4,35.6 443.8,45.5" fill="#A0505C"/><path d="M425.0 246.5 L425.0 45.5 L434.4 35.6 L443.8 45.5 L443.8 246.5 Z" fill="none" stroke="#333" stroke-width="1.1" stroke-linejoin="miter"/><line x1="441.8" y1="221.38" x2="443.8" y2="221.38" stroke="#333" stroke-width="0.8"/><line x1="441.8" y1="196.25" x2="443.8" y2="196.25" stroke="#333" stroke-width="0.8"/><line x1="441.8" y1="171.12" x2="443.8" y2="171.12" stroke="#333" stroke-width="0.8"/><line x1="441.8" y1="146.00" x2="443.8" y2="146.00" stroke="#333" stroke-width="0.8"/><line x1="441.8" y1="120.88" x2="443.8" y2="120.88" stroke="#333" stroke-width="0.8"/><line x1="441.8" y1="95.75" x2="443.8" y2="95.75" stroke="#333" stroke-width="0.8"/><line x1="441.8" y1="70.62" x2="443.8" y2="70.62" stroke="#333" stroke-width="0.8"/><g font-size="12" fill="#111"><text x="445.8" y="250.10" textLength="6.6" lengthAdjust="spacingAndGlyphs">2</text><text x="445.8" y="224.97" textLength="6.6" lengthAdjust="spacingAndGlyphs">4</text><text x="445.8" y="199.85" textLength="6.6" lengthAdjust="spacingAndGlyphs">6</text><text x="445.8" y="174.72" textLength="6.6" lengthAdjust="spacingAndGlyphs">8</text><text x="445.8" y="149.60" textLength="13.2" lengthAdjust="spacingAndGlyphs">10</text><text x="445.8" y="124.47" textLength="13.2" lengthAdjust="spacingAndGlyphs">12</text><text x="445.8" y="99.35" textLength="13.2" lengthAdjust="spacingAndGlyphs">14</text><text x="445.8" y="74.22" textLength="13.2" lengthAdjust="spacingAndGlyphs">16</text><text x="445.8" y="49.10" textLength="13.2" lengthAdjust="spacingAndGlyphs">18</text></g><text transform="translate(471,178.8) rotate(-90)" font-size="12" fill="#111" textLength="77.3" lengthAdjust="spacingAndGlyphs">Cross degree</text>
<rect x="425.0" y="479.38" width="18.8" height="25.43" fill="#FCF3C0"/><rect x="425.0" y="454.25" width="18.8" height="25.43" fill="#F3E0A3"/><rect x="425.0" y="429.12" width="18.8" height="25.43" fill="#EDCD8D"/><rect x="425.0" y="404.00" width="18.8" height="25.43" fill="#E6BB70"/><rect x="425.0" y="378.88" width="18.8" height="25.43" fill="#DFA95C"/><rect x="425.0" y="353.75" width="18.8" height="25.43" fill="#DA9642"/><rect x="425.0" y="328.62" width="18.8" height="25.43" fill="#D58128"/><rect x="425.0" y="303.50" width="18.8" height="25.43" fill="#CC6C0E"/><polygon points="425.0,303.5 434.4,293.6 443.8,303.5" fill="#A0505C"/><path d="M425.0 504.5 L425.0 303.5 L434.4 293.6 L443.8 303.5 L443.8 504.5 Z" fill="none" stroke="#333" stroke-width="1.1" stroke-linejoin="miter"/><line x1="441.8" y1="479.38" x2="443.8" y2="479.38" stroke="#333" stroke-width="0.8"/><line x1="441.8" y1="454.25" x2="443.8" y2="454.25" stroke="#333" stroke-width="0.8"/><line x1="441.8" y1="429.12" x2="443.8" y2="429.12" stroke="#333" stroke-width="0.8"/><line x1="441.8" y1="404.00" x2="443.8" y2="404.00" stroke="#333" stroke-width="0.8"/><line x1="441.8" y1="378.88" x2="443.8" y2="378.88" stroke="#333" stroke-width="0.8"/><line x1="441.8" y1="353.75" x2="443.8" y2="353.75" stroke="#333" stroke-width="0.8"/><line x1="441.8" y1="328.62" x2="443.8" y2="328.62" stroke="#333" stroke-width="0.8"/><g font-size="12" fill="#111"><text x="445.8" y="508.10" textLength="6.6" lengthAdjust="spacingAndGlyphs">2</text><text x="445.8" y="482.98" textLength="6.6" lengthAdjust="spacingAndGlyphs">4</text><text x="445.8" y="457.85" textLength="6.6" lengthAdjust="spacingAndGlyphs">6</text><text x="445.8" y="432.73" textLength="6.6" lengthAdjust="spacingAndGlyphs">8</text><text x="445.8" y="407.60" textLength="13.2" lengthAdjust="spacingAndGlyphs">10</text><text x="445.8" y="382.48" textLength="13.2" lengthAdjust="spacingAndGlyphs">12</text><text x="445.8" y="357.35" textLength="13.2" lengthAdjust="spacingAndGlyphs">14</text><text x="445.8" y="332.23" textLength="13.2" lengthAdjust="spacingAndGlyphs">16</text><text x="445.8" y="307.10" textLength="13.2" lengthAdjust="spacingAndGlyphs">18</text></g><text transform="translate(471,436.8) rotate(-90)" font-size="12" fill="#111" textLength="77.3" lengthAdjust="spacingAndGlyphs">Cross degree</text>
<g font-weight="bold" font-size="14" fill="#000"><text x="122.4" y="162.7" textLength="28.6" lengthAdjust="spacingAndGlyphs">SPO</text><text x="215.5" y="169.0" textLength="151.3" lengthAdjust="spacingAndGlyphs">Central Amazon Basin</text><text x="347.0" y="117.0" textLength="37.2" lengthAdjust="spacingAndGlyphs">STAO</text><text x="142.1" y="362.1" textLength="29.4" lengthAdjust="spacingAndGlyphs">CPO</text><text x="311.4" y="327.5" textLength="36.6" lengthAdjust="spacingAndGlyphs">NTAO</text><text x="215.6" y="426.8" textLength="151.0" lengthAdjust="spacingAndGlyphs">Central Amazon Basin</text></g>
<g fill="#111">
<text x="158.9" y="11.4" stroke="#111" stroke-width="0.15" font-size="13.4" textLength="132.6" lengthAdjust="spacingAndGlyphs">Positive correlations</text>
<text x="158.3" y="272" stroke="#111" stroke-width="0.15" font-size="13.4" textLength="140.1" lengthAdjust="spacingAndGlyphs">Negative correlations</text>
<text x="5.8" y="44.5" font-size="19">a</text>
<text x="6.2" y="307.3" font-size="18">b</text>
</g>
</svg>
</body></html>
